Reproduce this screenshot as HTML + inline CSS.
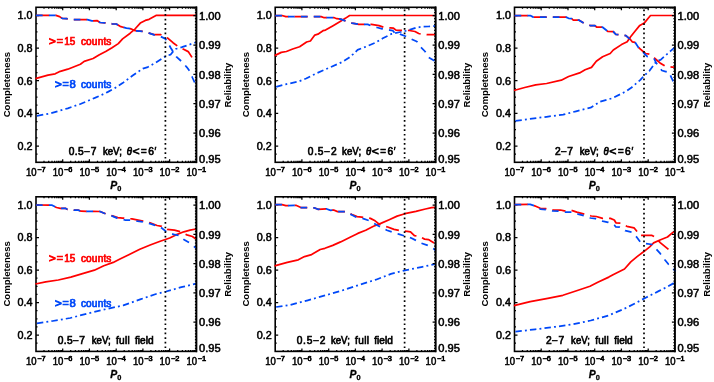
<!DOCTYPE html>
<html><head><meta charset="utf-8"><title>Completeness and reliability</title>
<style>html,body{margin:0;padding:0;background:#fff;}svg{display:block;will-change:transform;}text{font-family:"Liberation Sans",sans-serif;white-space:pre;}</style></head><body>
<svg width="714" height="382" viewBox="0 0 714 382">
<rect x="0" y="0" width="714" height="382" fill="#fff"/>
<g>
<path d="M44.0 162.3L44.0 160.8M44.0 7.3L44.0 8.8M48.7 162.3L48.7 160.8M48.7 7.3L48.7 8.8M52.0 162.3L52.0 160.8M52.0 7.3L52.0 8.8M54.6 162.3L54.6 160.8M54.6 7.3L54.6 8.8M56.8 162.3L56.8 160.8M56.8 7.3L56.8 8.8M58.5 162.3L58.5 160.8M58.5 7.3L58.5 8.8M60.1 162.3L60.1 160.8M60.1 7.3L60.1 8.8M61.5 162.3L61.5 160.8M61.5 7.3L61.5 8.8M62.7 162.3L62.7 159.3M62.7 7.3L62.7 10.3M70.7 162.3L70.7 160.8M70.7 7.3L70.7 8.8M75.4 162.3L75.4 160.8M75.4 7.3L75.4 8.8M78.8 162.3L78.8 160.8M78.8 7.3L78.8 8.8M81.4 162.3L81.4 160.8M81.4 7.3L81.4 8.8M83.5 162.3L83.5 160.8M83.5 7.3L83.5 8.8M85.3 162.3L85.3 160.8M85.3 7.3L85.3 8.8M86.8 162.3L86.8 160.8M86.8 7.3L86.8 8.8M88.2 162.3L88.2 160.8M88.2 7.3L88.2 8.8M89.4 162.3L89.4 159.3M89.4 7.3L89.4 10.3M97.5 162.3L97.5 160.8M97.5 7.3L97.5 8.8M102.2 162.3L102.2 160.8M102.2 7.3L102.2 8.8M105.5 162.3L105.5 160.8M105.5 7.3L105.5 8.8M108.1 162.3L108.1 160.8M108.1 7.3L108.1 8.8M110.2 162.3L110.2 160.8M110.2 7.3L110.2 8.8M112.0 162.3L112.0 160.8M112.0 7.3L112.0 8.8M113.6 162.3L113.6 160.8M113.6 7.3L113.6 8.8M114.9 162.3L114.9 160.8M114.9 7.3L114.9 8.8M116.2 162.3L116.2 159.3M116.2 7.3L116.2 10.3M124.2 162.3L124.2 160.8M124.2 7.3L124.2 8.8M128.9 162.3L128.9 160.8M128.9 7.3L128.9 8.8M132.2 162.3L132.2 160.8M132.2 7.3L132.2 8.8M134.8 162.3L134.8 160.8M134.8 7.3L134.8 8.8M137.0 162.3L137.0 160.8M137.0 7.3L137.0 8.8M138.7 162.3L138.7 160.8M138.7 7.3L138.7 8.8M140.3 162.3L140.3 160.8M140.3 7.3L140.3 8.8M141.7 162.3L141.7 160.8M141.7 7.3L141.7 8.8M142.9 162.3L142.9 159.3M142.9 7.3L142.9 10.3M150.9 162.3L150.9 160.8M150.9 7.3L150.9 8.8M155.6 162.3L155.6 160.8M155.6 7.3L155.6 8.8M159.0 162.3L159.0 160.8M159.0 7.3L159.0 8.8M161.6 162.3L161.6 160.8M161.6 7.3L161.6 8.8M163.7 162.3L163.7 160.8M163.7 7.3L163.7 8.8M165.5 162.3L165.5 160.8M165.5 7.3L165.5 8.8M167.0 162.3L167.0 160.8M167.0 7.3L167.0 8.8M168.4 162.3L168.4 160.8M168.4 7.3L168.4 8.8M169.6 162.3L169.6 159.3M169.6 7.3L169.6 10.3M177.7 162.3L177.7 160.8M177.7 7.3L177.7 8.8M182.4 162.3L182.4 160.8M182.4 7.3L182.4 8.8M185.7 162.3L185.7 160.8M185.7 7.3L185.7 8.8M188.3 162.3L188.3 160.8M188.3 7.3L188.3 8.8M190.4 162.3L190.4 160.8M190.4 7.3L190.4 8.8M192.2 162.3L192.2 160.8M192.2 7.3L192.2 8.8M193.8 162.3L193.8 160.8M193.8 7.3L193.8 8.8M195.1 162.3L195.1 160.8M195.1 7.3L195.1 8.8M36.0 154.1L37.5 154.1M36.0 146.0L39.0 146.0M36.0 137.8L37.5 137.8M36.0 129.7L37.5 129.7M36.0 121.5L37.5 121.5M36.0 113.4L39.0 113.4M36.0 105.2L37.5 105.2M36.0 97.1L37.5 97.1M36.0 88.9L37.5 88.9M36.0 80.7L39.0 80.7M36.0 72.6L37.5 72.6M36.0 64.4L37.5 64.4M36.0 56.3L37.5 56.3M36.0 48.1L39.0 48.1M36.0 40.0L37.5 40.0M36.0 31.8L37.5 31.8M36.0 23.7L37.5 23.7M36.0 15.5L39.0 15.5" stroke="#000" stroke-width="1.25" fill="none"/>
<rect x="36.0" y="7.3" width="160.4" height="155.0" fill="none" stroke="#000" stroke-width="1.6"/>
<polyline points="35.4,78.7 42.6,76.7 48.0,75.1 55.2,73.8 60.3,71.3 67.8,69.2 74.1,66.7 80.4,64.2 84.2,61.4 93.1,58.5 99.4,54.7 105.7,51.6 112.0,47.8 118.3,43.6 122.6,38.9 130.2,33.2 135.2,28.8 140.3,23.1 145.3,20.4 149.1,19.3 156.0,15.4 196.0,15.4" fill="none" stroke="#ff0000" stroke-width="1.72" stroke-linejoin="round"/>
<polyline points="36.9,115.9 50.2,113.4 67.8,108.3 80.4,104.0 95.5,97.6 101.0,95.2 107.5,92.1 113.8,88.8 122.6,83.1 132.7,75.5 142.8,68.6 147.8,67.1 155.4,62.9 163.0,57.9 166.1,56.0 170.5,54.7 173.0,51.6 175.6,49.0 181.9,47.2 189.4,44.6 195.5,42.5" fill="none" stroke="#0048f8" stroke-width="1.75" stroke-dasharray="6.45 3.15 1.9 3.15" stroke-dashoffset="0.0" stroke-linejoin="round"/>
<polyline points="36.0,15.4 55.9,15.4 59.6,16.6 62.2,18.4 66.6,18.7 73.5,19.6 87.4,19.6 91.8,20.9 97.0,20.6 100.0,22.5 105.7,22.8 112.0,23.8 116.3,24.0 120.1,26.3 126.4,28.2 130.8,28.8 135.2,30.7 142.8,31.3 149.1,33.2 154.1,34.7 160.4,34.5 163.0,35.7 168.0,38.3 173.0,42.7 178.1,46.5 183.1,49.0 188.2,51.6 192.0,57.4" fill="none" stroke="#ff0000" stroke-width="1.75" stroke-dasharray="13.3 6.0" stroke-dashoffset="0.0" stroke-linejoin="round"/>
<polyline points="36.0,15.4 55.9,15.4 59.6,16.6 62.2,18.4 66.6,18.7 73.5,19.6 87.4,19.6 91.8,20.9 97.0,20.6 100.0,22.5 105.7,22.8 112.0,23.8 116.3,24.0 120.1,26.3 126.4,28.2 130.8,28.8 135.2,30.7 142.8,31.3 149.1,33.2 154.1,34.9 160.4,36.4 165.5,38.9 167.4,42.0 170.5,47.5 173.0,51.6 176.8,57.2 181.9,61.7 186.9,67.3 190.1,71.7 192.6,78.0 195.3,84.0" fill="none" stroke="#0048f8" stroke-width="1.75" stroke-dasharray="6.65 6.22" stroke-dashoffset="0.0" stroke-linejoin="round"/>
<line x1="165.4" y1="9.5" x2="165.4" y2="161.8" stroke="#000" stroke-width="1.7" stroke-dasharray="1.7 2.907" stroke-dashoffset="0"/>
<path d="M196.4 159.4L194.9 159.4M196.4 156.4L194.9 156.4M196.4 153.5L194.9 153.5M196.4 150.6L194.9 150.6M196.4 147.6L194.9 147.6M196.4 144.7L194.9 144.7M196.4 141.8L194.9 141.8M196.4 138.8L194.9 138.8M196.4 135.9L194.9 135.9M196.4 133.0L193.4 133.0M196.4 130.0L194.9 130.0M196.4 127.1L194.9 127.1M196.4 124.2L194.9 124.2M196.4 121.2L194.9 121.2M196.4 118.3L194.9 118.3M196.4 115.4L194.9 115.4M196.4 112.4L194.9 112.4M196.4 109.5L194.9 109.5M196.4 106.6L194.9 106.6M196.4 103.7L193.4 103.7M196.4 100.7L194.9 100.7M196.4 97.8L194.9 97.8M196.4 94.9L194.9 94.9M196.4 91.9L194.9 91.9M196.4 89.0L194.9 89.0M196.4 86.1L194.9 86.1M196.4 83.1L194.9 83.1M196.4 80.2L194.9 80.2M196.4 77.3L194.9 77.3M196.4 74.3L193.4 74.3M196.4 71.4L194.9 71.4M196.4 68.5L194.9 68.5M196.4 65.5L194.9 65.5M196.4 62.6L194.9 62.6M196.4 59.7L194.9 59.7M196.4 56.7L194.9 56.7M196.4 53.8L194.9 53.8M196.4 50.9L194.9 50.9M196.4 47.9L194.9 47.9M196.4 45.0L193.4 45.0M196.4 42.1L194.9 42.1M196.4 39.1L194.9 39.1M196.4 36.2L194.9 36.2M196.4 33.3L194.9 33.3M196.4 30.3L194.9 30.3M196.4 27.4L194.9 27.4M196.4 24.5L194.9 24.5M196.4 21.5L194.9 21.5M196.4 18.6L194.9 18.6M196.4 15.7L193.4 15.7M196.4 12.7L194.9 12.7M196.4 9.8L194.9 9.8" stroke="#000" stroke-width="1.25" fill="none"/>
<line x1="196.4" y1="6.5" x2="196.4" y2="163.1" stroke="#000" stroke-width="1.6"/>
<text x="32.6" y="19.4" font-size="10.00" text-anchor="end" fill="#000" stroke="#000" stroke-width="0.50" textLength="15.0" lengthAdjust="spacingAndGlyphs" >1.0</text>
<text x="32.6" y="52.0" font-size="10.00" text-anchor="end" fill="#000" stroke="#000" stroke-width="0.50" textLength="15.0" lengthAdjust="spacingAndGlyphs" >0.8</text>
<text x="32.6" y="84.6" font-size="10.00" text-anchor="end" fill="#000" stroke="#000" stroke-width="0.50" textLength="15.0" lengthAdjust="spacingAndGlyphs" >0.6</text>
<text x="32.6" y="117.3" font-size="10.00" text-anchor="end" fill="#000" stroke="#000" stroke-width="0.50" textLength="15.0" lengthAdjust="spacingAndGlyphs" >0.4</text>
<text x="32.6" y="149.9" font-size="10.00" text-anchor="end" fill="#000" stroke="#000" stroke-width="0.50" textLength="15.0" lengthAdjust="spacingAndGlyphs" >0.2</text>
<text x="199.1" y="19.9" font-size="10.00" text-anchor="start" fill="#000" stroke="#000" stroke-width="0.50" textLength="21.6" lengthAdjust="spacingAndGlyphs" >1.00</text>
<text x="199.1" y="49.2" font-size="10.00" text-anchor="start" fill="#000" stroke="#000" stroke-width="0.50" textLength="21.6" lengthAdjust="spacingAndGlyphs" >0.99</text>
<text x="199.1" y="78.5" font-size="10.00" text-anchor="start" fill="#000" stroke="#000" stroke-width="0.50" textLength="21.6" lengthAdjust="spacingAndGlyphs" >0.98</text>
<text x="199.1" y="107.9" font-size="10.00" text-anchor="start" fill="#000" stroke="#000" stroke-width="0.50" textLength="21.6" lengthAdjust="spacingAndGlyphs" >0.97</text>
<text x="199.1" y="137.2" font-size="10.00" text-anchor="start" fill="#000" stroke="#000" stroke-width="0.50" textLength="21.6" lengthAdjust="spacingAndGlyphs" >0.96</text>
<text x="199.1" y="162.9" font-size="10.00" text-anchor="start" fill="#000" stroke="#000" stroke-width="0.50" textLength="21.6" lengthAdjust="spacingAndGlyphs" >0.95</text>
<text x="26.0" y="175.9" font-size="10.00" text-anchor="start" fill="#000" stroke="#000" stroke-width="0.50" textLength="10.6" lengthAdjust="spacingAndGlyphs" >10</text>
<text x="37.2" y="172.0" font-size="7.00" text-anchor="start" fill="#000" stroke="#000" stroke-width="0.65" textLength="8.4" lengthAdjust="spacingAndGlyphs" >−7</text>
<text x="52.7" y="175.9" font-size="10.00" text-anchor="start" fill="#000" stroke="#000" stroke-width="0.50" textLength="10.6" lengthAdjust="spacingAndGlyphs" >10</text>
<text x="64.0" y="172.0" font-size="7.00" text-anchor="start" fill="#000" stroke="#000" stroke-width="0.65" textLength="8.4" lengthAdjust="spacingAndGlyphs" >−6</text>
<text x="79.4" y="175.9" font-size="10.00" text-anchor="start" fill="#000" stroke="#000" stroke-width="0.50" textLength="10.6" lengthAdjust="spacingAndGlyphs" >10</text>
<text x="90.7" y="172.0" font-size="7.00" text-anchor="start" fill="#000" stroke="#000" stroke-width="0.65" textLength="8.4" lengthAdjust="spacingAndGlyphs" >−5</text>
<text x="106.2" y="175.9" font-size="10.00" text-anchor="start" fill="#000" stroke="#000" stroke-width="0.50" textLength="10.6" lengthAdjust="spacingAndGlyphs" >10</text>
<text x="117.5" y="172.0" font-size="7.00" text-anchor="start" fill="#000" stroke="#000" stroke-width="0.65" textLength="8.4" lengthAdjust="spacingAndGlyphs" >−4</text>
<text x="132.9" y="175.9" font-size="10.00" text-anchor="start" fill="#000" stroke="#000" stroke-width="0.50" textLength="10.6" lengthAdjust="spacingAndGlyphs" >10</text>
<text x="144.2" y="172.0" font-size="7.00" text-anchor="start" fill="#000" stroke="#000" stroke-width="0.65" textLength="8.4" lengthAdjust="spacingAndGlyphs" >−3</text>
<text x="159.6" y="175.9" font-size="10.00" text-anchor="start" fill="#000" stroke="#000" stroke-width="0.50" textLength="10.6" lengthAdjust="spacingAndGlyphs" >10</text>
<text x="170.9" y="172.0" font-size="7.00" text-anchor="start" fill="#000" stroke="#000" stroke-width="0.65" textLength="8.4" lengthAdjust="spacingAndGlyphs" >−2</text>
<text x="186.4" y="175.9" font-size="10.00" text-anchor="start" fill="#000" stroke="#000" stroke-width="0.50" textLength="10.6" lengthAdjust="spacingAndGlyphs" >10</text>
<text x="197.7" y="172.0" font-size="7.00" text-anchor="start" fill="#000" stroke="#000" stroke-width="0.65" textLength="8.4" lengthAdjust="spacingAndGlyphs" >−1</text>
<text transform="translate(9.6 84.6) rotate(-90)" font-size="9.80" font-weight="bold" text-anchor="middle" textLength="65.4" lengthAdjust="spacingAndGlyphs" fill="#000">Completeness</text>
<text transform="translate(231.1 85.1) rotate(-90)" font-size="9.80" font-weight="bold" text-anchor="middle" textLength="44.6" lengthAdjust="spacingAndGlyphs" fill="#000">Reliability</text>
<text x="110.2" y="188.6" font-size="10.4" font-style="italic" font-weight="bold" fill="#000" stroke="#000" stroke-width="0.3">P</text>
<text x="117.2" y="190.9" font-size="7.4" font-weight="bold" fill="#000" stroke="#000" stroke-width="0.3">0</text>
<text x="68.7" y="155.0" font-size="10.20" text-anchor="start" fill="#000" stroke="#000" stroke-width="0.65" textLength="27.6" lengthAdjust="spacing" >0.5−7</text>
<text x="102.9" y="155.0" font-size="10.10" text-anchor="start" fill="#000" stroke="#000" stroke-width="0.65" textLength="19.0" lengthAdjust="spacingAndGlyphs" >keV;</text>
<text x="126.7" y="155.0" font-size="10.20" text-anchor="start" fill="#000" stroke="#000" stroke-width="0.65" textLength="5.2" lengthAdjust="spacingAndGlyphs"  font-style="italic">θ</text>
<text x="132.5" y="155.0" font-size="10.20" text-anchor="start" fill="#000" stroke="#000" stroke-width="0.65" textLength="7.1" lengthAdjust="spacingAndGlyphs" >&lt;</text>
<text x="141.1" y="155.0" font-size="10.20" text-anchor="start" fill="#000" stroke="#000" stroke-width="0.65" textLength="5.7" lengthAdjust="spacingAndGlyphs" >=</text>
<text x="148.2" y="155.0" font-size="10.20" text-anchor="start" fill="#000" stroke="#000" stroke-width="0.65" textLength="5.7" lengthAdjust="spacingAndGlyphs" >6</text>
<text x="154.6" y="155.0" font-size="10.20" text-anchor="start" fill="#000" stroke="#000" stroke-width="0.65" textLength="1.8" lengthAdjust="spacingAndGlyphs" >′</text>
<text x="48.9" y="44.9" font-size="10.20" text-anchor="start" fill="#ff0000" stroke="#ff0000" stroke-width="0.90" textLength="6.8" lengthAdjust="spacingAndGlyphs" >&gt;</text>
<text x="56.8" y="44.9" font-size="10.20" text-anchor="start" fill="#ff0000" stroke="#ff0000" stroke-width="0.90" textLength="6.2" lengthAdjust="spacingAndGlyphs" >=</text>
<text x="64.2" y="44.9" font-size="10.20" text-anchor="start" fill="#ff0000" stroke="#ff0000" stroke-width="0.70" textLength="11.0" lengthAdjust="spacingAndGlyphs" >15</text>
<text x="80.9" y="44.9" font-size="10.10" text-anchor="start" fill="#ff0000" stroke="#ff0000" stroke-width="0.70" textLength="30.5" lengthAdjust="spacing" >counts</text>
<text x="54.9" y="88.0" font-size="10.20" text-anchor="start" fill="#0048f8" stroke="#0048f8" stroke-width="0.90" textLength="6.8" lengthAdjust="spacingAndGlyphs" >&gt;</text>
<text x="62.4" y="88.0" font-size="10.20" text-anchor="start" fill="#0048f8" stroke="#0048f8" stroke-width="0.90" textLength="6.2" lengthAdjust="spacingAndGlyphs" >=</text>
<text x="69.4" y="88.0" font-size="10.20" text-anchor="start" fill="#0048f8" stroke="#0048f8" stroke-width="0.70" textLength="6.3" lengthAdjust="spacingAndGlyphs" >8</text>
<text x="80.9" y="88.0" font-size="10.10" text-anchor="start" fill="#0048f8" stroke="#0048f8" stroke-width="0.70" textLength="30.5" lengthAdjust="spacing" >counts</text>
</g>
<g>
<path d="M283.2 162.3L283.2 160.8M283.2 7.3L283.2 8.8M288.0 162.3L288.0 160.8M288.0 7.3L288.0 8.8M291.3 162.3L291.3 160.8M291.3 7.3L291.3 8.8M293.9 162.3L293.9 160.8M293.9 7.3L293.9 8.8M296.0 162.3L296.0 160.8M296.0 7.3L296.0 8.8M297.8 162.3L297.8 160.8M297.8 7.3L297.8 8.8M299.3 162.3L299.3 160.8M299.3 7.3L299.3 8.8M300.7 162.3L300.7 160.8M300.7 7.3L300.7 8.8M301.9 162.3L301.9 159.3M301.9 7.3L301.9 10.3M310.0 162.3L310.0 160.8M310.0 7.3L310.0 8.8M314.7 162.3L314.7 160.8M314.7 7.3L314.7 8.8M318.0 162.3L318.0 160.8M318.0 7.3L318.0 8.8M320.6 162.3L320.6 160.8M320.6 7.3L320.6 8.8M322.7 162.3L322.7 160.8M322.7 7.3L322.7 8.8M324.5 162.3L324.5 160.8M324.5 7.3L324.5 8.8M326.1 162.3L326.1 160.8M326.1 7.3L326.1 8.8M327.4 162.3L327.4 160.8M327.4 7.3L327.4 8.8M328.7 162.3L328.7 159.3M328.7 7.3L328.7 10.3M336.7 162.3L336.7 160.8M336.7 7.3L336.7 8.8M341.4 162.3L341.4 160.8M341.4 7.3L341.4 8.8M344.8 162.3L344.8 160.8M344.8 7.3L344.8 8.8M347.4 162.3L347.4 160.8M347.4 7.3L347.4 8.8M349.5 162.3L349.5 160.8M349.5 7.3L349.5 8.8M351.3 162.3L351.3 160.8M351.3 7.3L351.3 8.8M352.8 162.3L352.8 160.8M352.8 7.3L352.8 8.8M354.2 162.3L354.2 160.8M354.2 7.3L354.2 8.8M355.4 162.3L355.4 159.3M355.4 7.3L355.4 10.3M363.4 162.3L363.4 160.8M363.4 7.3L363.4 8.8M368.2 162.3L368.2 160.8M368.2 7.3L368.2 8.8M371.5 162.3L371.5 160.8M371.5 7.3L371.5 8.8M374.1 162.3L374.1 160.8M374.1 7.3L374.1 8.8M376.2 162.3L376.2 160.8M376.2 7.3L376.2 8.8M378.0 162.3L378.0 160.8M378.0 7.3L378.0 8.8M379.5 162.3L379.5 160.8M379.5 7.3L379.5 8.8M380.9 162.3L380.9 160.8M380.9 7.3L380.9 8.8M382.1 162.3L382.1 159.3M382.1 7.3L382.1 10.3M390.2 162.3L390.2 160.8M390.2 7.3L390.2 8.8M394.9 162.3L394.9 160.8M394.9 7.3L394.9 8.8M398.2 162.3L398.2 160.8M398.2 7.3L398.2 8.8M400.8 162.3L400.8 160.8M400.8 7.3L400.8 8.8M402.9 162.3L402.9 160.8M402.9 7.3L402.9 8.8M404.7 162.3L404.7 160.8M404.7 7.3L404.7 8.8M406.3 162.3L406.3 160.8M406.3 7.3L406.3 8.8M407.6 162.3L407.6 160.8M407.6 7.3L407.6 8.8M408.9 162.3L408.9 159.3M408.9 7.3L408.9 10.3M416.9 162.3L416.9 160.8M416.9 7.3L416.9 8.8M421.6 162.3L421.6 160.8M421.6 7.3L421.6 8.8M425.0 162.3L425.0 160.8M425.0 7.3L425.0 8.8M427.6 162.3L427.6 160.8M427.6 7.3L427.6 8.8M429.7 162.3L429.7 160.8M429.7 7.3L429.7 8.8M431.5 162.3L431.5 160.8M431.5 7.3L431.5 8.8M433.0 162.3L433.0 160.8M433.0 7.3L433.0 8.8M434.4 162.3L434.4 160.8M434.4 7.3L434.4 8.8M275.2 154.1L276.7 154.1M275.2 146.0L278.2 146.0M275.2 137.8L276.7 137.8M275.2 129.7L276.7 129.7M275.2 121.5L276.7 121.5M275.2 113.4L278.2 113.4M275.2 105.2L276.7 105.2M275.2 97.1L276.7 97.1M275.2 88.9L276.7 88.9M275.2 80.7L278.2 80.7M275.2 72.6L276.7 72.6M275.2 64.4L276.7 64.4M275.2 56.3L276.7 56.3M275.2 48.1L278.2 48.1M275.2 40.0L276.7 40.0M275.2 31.8L276.7 31.8M275.2 23.7L276.7 23.7M275.2 15.5L278.2 15.5" stroke="#000" stroke-width="1.25" fill="none"/>
<rect x="275.2" y="7.3" width="160.4" height="155.0" fill="none" stroke="#000" stroke-width="1.6"/>
<polyline points="274.6,55.6 281.3,52.4 286.4,51.5 292.7,49.0 299.6,46.8 306.6,42.0 310.4,41.0 314.8,35.1 317.9,34.2 323.0,30.7 325.5,30.1 333.1,25.7 340.6,21.2 345.7,18.1 349.6,15.5 435.5,15.5" fill="none" stroke="#ff0000" stroke-width="1.72" stroke-linejoin="round"/>
<polyline points="276.1,86.9 285.7,84.3 298.3,81.6 306.1,78.5 317.1,73.0 329.7,67.5 342.2,62.0 348.5,58.1 353.2,54.1 357.6,49.9 366.4,46.5 375.2,42.7 382.8,38.3 391.6,33.9 400.4,32.0 408.0,30.4 415.6,27.9 420.6,26.9 428.2,26.5 435.5,26.0" fill="none" stroke="#0048f8" stroke-width="1.75" stroke-dasharray="6.45 3.15 1.9 3.15" stroke-dashoffset="0.0" stroke-linejoin="round"/>
<polyline points="275.3,15.5 282.0,15.5 285.8,16.6 321.1,16.6 323.6,17.5 333.7,17.5 336.8,18.7 340.6,19.1 345.7,21.0 352.0,23.1 356.3,23.8 358.8,24.4 367.7,24.4 371.4,24.3 379.0,25.7 383.4,27.2 390.4,27.9 393.5,28.2 396.0,30.1 401.7,30.4 409.3,30.5 415.0,31.5 418.7,33.5 420.4,33.9 427.4,34.7 435.5,34.7" fill="none" stroke="#ff0000" stroke-width="1.75" stroke-dasharray="13.3 6.0" stroke-dashoffset="0.0" stroke-linejoin="round"/>
<polyline points="275.3,15.5 282.0,15.5 285.8,16.6 321.1,16.6 323.6,17.5 333.7,17.5 336.8,18.7 340.6,19.1 345.7,21.0 352.0,23.1 356.3,23.8 358.8,24.4 367.7,24.4 370.8,25.7 377.1,27.5 382.2,28.8 389.7,30.1 392.9,30.7 394.8,33.2 398.5,32.6 400.6,34.4 405.6,36.2 411.5,39.2 416.8,41.5 420.4,46.8 425.1,51.5 428.6,57.4 433.9,60.4 435.5,61.3" fill="none" stroke="#0048f8" stroke-width="1.75" stroke-dasharray="6.65 6.22" stroke-dashoffset="0.0" stroke-linejoin="round"/>
<line x1="404.6" y1="9.5" x2="404.6" y2="161.8" stroke="#000" stroke-width="1.7" stroke-dasharray="1.7 2.907" stroke-dashoffset="0"/>
<path d="M435.6 159.4L434.1 159.4M435.6 156.4L434.1 156.4M435.6 153.5L434.1 153.5M435.6 150.6L434.1 150.6M435.6 147.6L434.1 147.6M435.6 144.7L434.1 144.7M435.6 141.8L434.1 141.8M435.6 138.8L434.1 138.8M435.6 135.9L434.1 135.9M435.6 133.0L432.6 133.0M435.6 130.0L434.1 130.0M435.6 127.1L434.1 127.1M435.6 124.2L434.1 124.2M435.6 121.2L434.1 121.2M435.6 118.3L434.1 118.3M435.6 115.4L434.1 115.4M435.6 112.4L434.1 112.4M435.6 109.5L434.1 109.5M435.6 106.6L434.1 106.6M435.6 103.7L432.6 103.7M435.6 100.7L434.1 100.7M435.6 97.8L434.1 97.8M435.6 94.9L434.1 94.9M435.6 91.9L434.1 91.9M435.6 89.0L434.1 89.0M435.6 86.1L434.1 86.1M435.6 83.1L434.1 83.1M435.6 80.2L434.1 80.2M435.6 77.3L434.1 77.3M435.6 74.3L432.6 74.3M435.6 71.4L434.1 71.4M435.6 68.5L434.1 68.5M435.6 65.5L434.1 65.5M435.6 62.6L434.1 62.6M435.6 59.7L434.1 59.7M435.6 56.7L434.1 56.7M435.6 53.8L434.1 53.8M435.6 50.9L434.1 50.9M435.6 47.9L434.1 47.9M435.6 45.0L432.6 45.0M435.6 42.1L434.1 42.1M435.6 39.1L434.1 39.1M435.6 36.2L434.1 36.2M435.6 33.3L434.1 33.3M435.6 30.3L434.1 30.3M435.6 27.4L434.1 27.4M435.6 24.5L434.1 24.5M435.6 21.5L434.1 21.5M435.6 18.6L434.1 18.6M435.6 15.7L432.6 15.7M435.6 12.7L434.1 12.7M435.6 9.8L434.1 9.8" stroke="#000" stroke-width="1.25" fill="none"/>
<line x1="435.6" y1="6.5" x2="435.6" y2="163.1" stroke="#000" stroke-width="1.6"/>
<text x="271.8" y="19.4" font-size="10.00" text-anchor="end" fill="#000" stroke="#000" stroke-width="0.50" textLength="15.0" lengthAdjust="spacingAndGlyphs" >1.0</text>
<text x="271.8" y="52.0" font-size="10.00" text-anchor="end" fill="#000" stroke="#000" stroke-width="0.50" textLength="15.0" lengthAdjust="spacingAndGlyphs" >0.8</text>
<text x="271.8" y="84.6" font-size="10.00" text-anchor="end" fill="#000" stroke="#000" stroke-width="0.50" textLength="15.0" lengthAdjust="spacingAndGlyphs" >0.6</text>
<text x="271.8" y="117.3" font-size="10.00" text-anchor="end" fill="#000" stroke="#000" stroke-width="0.50" textLength="15.0" lengthAdjust="spacingAndGlyphs" >0.4</text>
<text x="271.8" y="149.9" font-size="10.00" text-anchor="end" fill="#000" stroke="#000" stroke-width="0.50" textLength="15.0" lengthAdjust="spacingAndGlyphs" >0.2</text>
<text x="438.3" y="19.9" font-size="10.00" text-anchor="start" fill="#000" stroke="#000" stroke-width="0.50" textLength="21.6" lengthAdjust="spacingAndGlyphs" >1.00</text>
<text x="438.3" y="49.2" font-size="10.00" text-anchor="start" fill="#000" stroke="#000" stroke-width="0.50" textLength="21.6" lengthAdjust="spacingAndGlyphs" >0.99</text>
<text x="438.3" y="78.5" font-size="10.00" text-anchor="start" fill="#000" stroke="#000" stroke-width="0.50" textLength="21.6" lengthAdjust="spacingAndGlyphs" >0.98</text>
<text x="438.3" y="107.9" font-size="10.00" text-anchor="start" fill="#000" stroke="#000" stroke-width="0.50" textLength="21.6" lengthAdjust="spacingAndGlyphs" >0.97</text>
<text x="438.3" y="137.2" font-size="10.00" text-anchor="start" fill="#000" stroke="#000" stroke-width="0.50" textLength="21.6" lengthAdjust="spacingAndGlyphs" >0.96</text>
<text x="438.3" y="162.9" font-size="10.00" text-anchor="start" fill="#000" stroke="#000" stroke-width="0.50" textLength="21.6" lengthAdjust="spacingAndGlyphs" >0.95</text>
<text x="265.2" y="175.9" font-size="10.00" text-anchor="start" fill="#000" stroke="#000" stroke-width="0.50" textLength="10.6" lengthAdjust="spacingAndGlyphs" >10</text>
<text x="276.5" y="172.0" font-size="7.00" text-anchor="start" fill="#000" stroke="#000" stroke-width="0.65" textLength="8.4" lengthAdjust="spacingAndGlyphs" >−7</text>
<text x="291.9" y="175.9" font-size="10.00" text-anchor="start" fill="#000" stroke="#000" stroke-width="0.50" textLength="10.6" lengthAdjust="spacingAndGlyphs" >10</text>
<text x="303.2" y="172.0" font-size="7.00" text-anchor="start" fill="#000" stroke="#000" stroke-width="0.65" textLength="8.4" lengthAdjust="spacingAndGlyphs" >−6</text>
<text x="318.7" y="175.9" font-size="10.00" text-anchor="start" fill="#000" stroke="#000" stroke-width="0.50" textLength="10.6" lengthAdjust="spacingAndGlyphs" >10</text>
<text x="330.0" y="172.0" font-size="7.00" text-anchor="start" fill="#000" stroke="#000" stroke-width="0.65" textLength="8.4" lengthAdjust="spacingAndGlyphs" >−5</text>
<text x="345.4" y="175.9" font-size="10.00" text-anchor="start" fill="#000" stroke="#000" stroke-width="0.50" textLength="10.6" lengthAdjust="spacingAndGlyphs" >10</text>
<text x="356.7" y="172.0" font-size="7.00" text-anchor="start" fill="#000" stroke="#000" stroke-width="0.65" textLength="8.4" lengthAdjust="spacingAndGlyphs" >−4</text>
<text x="372.1" y="175.9" font-size="10.00" text-anchor="start" fill="#000" stroke="#000" stroke-width="0.50" textLength="10.6" lengthAdjust="spacingAndGlyphs" >10</text>
<text x="383.4" y="172.0" font-size="7.00" text-anchor="start" fill="#000" stroke="#000" stroke-width="0.65" textLength="8.4" lengthAdjust="spacingAndGlyphs" >−3</text>
<text x="398.9" y="175.9" font-size="10.00" text-anchor="start" fill="#000" stroke="#000" stroke-width="0.50" textLength="10.6" lengthAdjust="spacingAndGlyphs" >10</text>
<text x="410.2" y="172.0" font-size="7.00" text-anchor="start" fill="#000" stroke="#000" stroke-width="0.65" textLength="8.4" lengthAdjust="spacingAndGlyphs" >−2</text>
<text x="425.6" y="175.9" font-size="10.00" text-anchor="start" fill="#000" stroke="#000" stroke-width="0.50" textLength="10.6" lengthAdjust="spacingAndGlyphs" >10</text>
<text x="436.9" y="172.0" font-size="7.00" text-anchor="start" fill="#000" stroke="#000" stroke-width="0.65" textLength="8.4" lengthAdjust="spacingAndGlyphs" >−1</text>
<text transform="translate(248.8 84.6) rotate(-90)" font-size="9.80" font-weight="bold" text-anchor="middle" textLength="65.4" lengthAdjust="spacingAndGlyphs" fill="#000">Completeness</text>
<text transform="translate(470.3 85.1) rotate(-90)" font-size="9.80" font-weight="bold" text-anchor="middle" textLength="44.6" lengthAdjust="spacingAndGlyphs" fill="#000">Reliability</text>
<text x="349.5" y="188.6" font-size="10.4" font-style="italic" font-weight="bold" fill="#000" stroke="#000" stroke-width="0.3">P</text>
<text x="356.4" y="190.9" font-size="7.4" font-weight="bold" fill="#000" stroke="#000" stroke-width="0.3">0</text>
<text x="307.7" y="155.0" font-size="10.20" text-anchor="start" fill="#000" stroke="#000" stroke-width="0.65" textLength="28.9" lengthAdjust="spacing" >0.5−2</text>
<text x="342.1" y="155.0" font-size="10.10" text-anchor="start" fill="#000" stroke="#000" stroke-width="0.65" textLength="19.0" lengthAdjust="spacingAndGlyphs" >keV;</text>
<text x="365.9" y="155.0" font-size="10.20" text-anchor="start" fill="#000" stroke="#000" stroke-width="0.65" textLength="5.2" lengthAdjust="spacingAndGlyphs"  font-style="italic">θ</text>
<text x="371.7" y="155.0" font-size="10.20" text-anchor="start" fill="#000" stroke="#000" stroke-width="0.65" textLength="7.1" lengthAdjust="spacingAndGlyphs" >&lt;</text>
<text x="380.3" y="155.0" font-size="10.20" text-anchor="start" fill="#000" stroke="#000" stroke-width="0.65" textLength="5.7" lengthAdjust="spacingAndGlyphs" >=</text>
<text x="387.4" y="155.0" font-size="10.20" text-anchor="start" fill="#000" stroke="#000" stroke-width="0.65" textLength="5.7" lengthAdjust="spacingAndGlyphs" >6</text>
<text x="393.8" y="155.0" font-size="10.20" text-anchor="start" fill="#000" stroke="#000" stroke-width="0.65" textLength="1.8" lengthAdjust="spacingAndGlyphs" >′</text>
</g>
<g>
<path d="M522.5 162.3L522.5 160.8M522.5 7.3L522.5 8.8M527.3 162.3L527.3 160.8M527.3 7.3L527.3 8.8M530.6 162.3L530.6 160.8M530.6 7.3L530.6 8.8M533.2 162.3L533.2 160.8M533.2 7.3L533.2 8.8M535.3 162.3L535.3 160.8M535.3 7.3L535.3 8.8M537.1 162.3L537.1 160.8M537.1 7.3L537.1 8.8M538.6 162.3L538.6 160.8M538.6 7.3L538.6 8.8M540.0 162.3L540.0 160.8M540.0 7.3L540.0 8.8M541.2 162.3L541.2 159.3M541.2 7.3L541.2 10.3M549.3 162.3L549.3 160.8M549.3 7.3L549.3 8.8M554.0 162.3L554.0 160.8M554.0 7.3L554.0 8.8M557.3 162.3L557.3 160.8M557.3 7.3L557.3 8.8M559.9 162.3L559.9 160.8M559.9 7.3L559.9 8.8M562.0 162.3L562.0 160.8M562.0 7.3L562.0 8.8M563.8 162.3L563.8 160.8M563.8 7.3L563.8 8.8M565.4 162.3L565.4 160.8M565.4 7.3L565.4 8.8M566.7 162.3L566.7 160.8M566.7 7.3L566.7 8.8M568.0 162.3L568.0 159.3M568.0 7.3L568.0 10.3M576.0 162.3L576.0 160.8M576.0 7.3L576.0 8.8M580.7 162.3L580.7 160.8M580.7 7.3L580.7 8.8M584.1 162.3L584.1 160.8M584.1 7.3L584.1 8.8M586.7 162.3L586.7 160.8M586.7 7.3L586.7 8.8M588.8 162.3L588.8 160.8M588.8 7.3L588.8 8.8M590.6 162.3L590.6 160.8M590.6 7.3L590.6 8.8M592.1 162.3L592.1 160.8M592.1 7.3L592.1 8.8M593.5 162.3L593.5 160.8M593.5 7.3L593.5 8.8M594.7 162.3L594.7 159.3M594.7 7.3L594.7 10.3M602.7 162.3L602.7 160.8M602.7 7.3L602.7 8.8M607.5 162.3L607.5 160.8M607.5 7.3L607.5 8.8M610.8 162.3L610.8 160.8M610.8 7.3L610.8 8.8M613.4 162.3L613.4 160.8M613.4 7.3L613.4 8.8M615.5 162.3L615.5 160.8M615.5 7.3L615.5 8.8M617.3 162.3L617.3 160.8M617.3 7.3L617.3 8.8M618.8 162.3L618.8 160.8M618.8 7.3L618.8 8.8M620.2 162.3L620.2 160.8M620.2 7.3L620.2 8.8M621.4 162.3L621.4 159.3M621.4 7.3L621.4 10.3M629.5 162.3L629.5 160.8M629.5 7.3L629.5 8.8M634.2 162.3L634.2 160.8M634.2 7.3L634.2 8.8M637.5 162.3L637.5 160.8M637.5 7.3L637.5 8.8M640.1 162.3L640.1 160.8M640.1 7.3L640.1 8.8M642.2 162.3L642.2 160.8M642.2 7.3L642.2 8.8M644.0 162.3L644.0 160.8M644.0 7.3L644.0 8.8M645.6 162.3L645.6 160.8M645.6 7.3L645.6 8.8M646.9 162.3L646.9 160.8M646.9 7.3L646.9 8.8M648.2 162.3L648.2 159.3M648.2 7.3L648.2 10.3M656.2 162.3L656.2 160.8M656.2 7.3L656.2 8.8M660.9 162.3L660.9 160.8M660.9 7.3L660.9 8.8M664.3 162.3L664.3 160.8M664.3 7.3L664.3 8.8M666.9 162.3L666.9 160.8M666.9 7.3L666.9 8.8M669.0 162.3L669.0 160.8M669.0 7.3L669.0 8.8M670.8 162.3L670.8 160.8M670.8 7.3L670.8 8.8M672.3 162.3L672.3 160.8M672.3 7.3L672.3 8.8M673.7 162.3L673.7 160.8M673.7 7.3L673.7 8.8M514.5 154.1L516.0 154.1M514.5 146.0L517.5 146.0M514.5 137.8L516.0 137.8M514.5 129.7L516.0 129.7M514.5 121.5L516.0 121.5M514.5 113.4L517.5 113.4M514.5 105.2L516.0 105.2M514.5 97.1L516.0 97.1M514.5 88.9L516.0 88.9M514.5 80.7L517.5 80.7M514.5 72.6L516.0 72.6M514.5 64.4L516.0 64.4M514.5 56.3L516.0 56.3M514.5 48.1L517.5 48.1M514.5 40.0L516.0 40.0M514.5 31.8L516.0 31.8M514.5 23.7L516.0 23.7M514.5 15.5L517.5 15.5" stroke="#000" stroke-width="1.25" fill="none"/>
<rect x="514.5" y="7.3" width="160.4" height="155.0" fill="none" stroke="#000" stroke-width="1.6"/>
<polyline points="513.9,90.5 524.7,87.5 535.7,84.9 546.6,83.5 561.3,80.2 568.6,76.5 579.6,72.9 585.1,69.7 591.5,67.4 596.3,61.2 602.6,56.7 610.2,53.5 613.3,50.0 621.5,44.6 627.2,41.8 630.4,37.0 635.4,30.7 639.8,25.4 644.2,23.1 650.5,15.5 675.0,15.5" fill="none" stroke="#ff0000" stroke-width="1.72" stroke-linejoin="round"/>
<polyline points="515.4,120.9 528.3,119.2 546.6,116.8 563.1,114.6 576.0,111.3 590.6,107.7 599.8,101.8 612.6,98.1 623.6,92.6 626.6,91.0 631.6,87.5 640.4,79.9 644.2,75.5 649.3,71.1 654.3,64.2 656.8,61.0 660.6,59.8 665.7,55.3 670.7,50.9 675.0,47.2" fill="none" stroke="#0048f8" stroke-width="1.75" stroke-dasharray="6.45 3.15 1.9 3.15" stroke-dashoffset="0.0" stroke-linejoin="round"/>
<polyline points="514.6,15.5 530.2,15.5 533.3,17.1 566.1,17.1 568.6,18.3 571.8,18.7 573.1,20.0 578.7,20.0 584.4,23.4 590.7,25.7 595.0,25.7 596.9,27.2 602.6,27.2 607.7,31.3 613.3,31.6 615.9,34.5 619.6,34.7 625.9,35.7 630.4,39.5 632.2,41.8 635.4,42.3 639.5,48.4 645.5,53.5 649.9,54.3 654.9,58.5 660.0,62.9 665.0,66.1 672.0,67.1 675.1,67.1" fill="none" stroke="#ff0000" stroke-width="1.75" stroke-dasharray="13.3 6.0" stroke-dashoffset="0.0" stroke-linejoin="round"/>
<polyline points="514.6,15.5 530.2,15.5 533.3,17.1 566.1,17.1 568.6,18.3 571.8,18.7 573.1,20.0 578.7,20.0 584.4,23.4 590.7,25.7 595.0,25.7 596.9,27.2 602.6,27.2 607.7,31.3 613.3,31.6 615.9,34.5 619.6,34.7 625.9,35.7 630.4,39.5 632.2,41.8 635.4,42.8 638.6,47.8 644.2,53.5 647.4,56.6 654.3,59.1 656.2,62.9 658.7,66.7 661.9,70.5 665.7,71.7 668.8,71.5 671.3,77.4 674.4,84.0" fill="none" stroke="#0048f8" stroke-width="1.75" stroke-dasharray="6.65 6.22" stroke-dashoffset="0.0" stroke-linejoin="round"/>
<line x1="644.0" y1="9.5" x2="644.0" y2="161.8" stroke="#000" stroke-width="1.7" stroke-dasharray="1.7 2.907" stroke-dashoffset="0"/>
<path d="M674.9 159.4L673.4 159.4M674.9 156.4L673.4 156.4M674.9 153.5L673.4 153.5M674.9 150.6L673.4 150.6M674.9 147.6L673.4 147.6M674.9 144.7L673.4 144.7M674.9 141.8L673.4 141.8M674.9 138.8L673.4 138.8M674.9 135.9L673.4 135.9M674.9 133.0L671.9 133.0M674.9 130.0L673.4 130.0M674.9 127.1L673.4 127.1M674.9 124.2L673.4 124.2M674.9 121.2L673.4 121.2M674.9 118.3L673.4 118.3M674.9 115.4L673.4 115.4M674.9 112.4L673.4 112.4M674.9 109.5L673.4 109.5M674.9 106.6L673.4 106.6M674.9 103.7L671.9 103.7M674.9 100.7L673.4 100.7M674.9 97.8L673.4 97.8M674.9 94.9L673.4 94.9M674.9 91.9L673.4 91.9M674.9 89.0L673.4 89.0M674.9 86.1L673.4 86.1M674.9 83.1L673.4 83.1M674.9 80.2L673.4 80.2M674.9 77.3L673.4 77.3M674.9 74.3L671.9 74.3M674.9 71.4L673.4 71.4M674.9 68.5L673.4 68.5M674.9 65.5L673.4 65.5M674.9 62.6L673.4 62.6M674.9 59.7L673.4 59.7M674.9 56.7L673.4 56.7M674.9 53.8L673.4 53.8M674.9 50.9L673.4 50.9M674.9 47.9L673.4 47.9M674.9 45.0L671.9 45.0M674.9 42.1L673.4 42.1M674.9 39.1L673.4 39.1M674.9 36.2L673.4 36.2M674.9 33.3L673.4 33.3M674.9 30.3L673.4 30.3M674.9 27.4L673.4 27.4M674.9 24.5L673.4 24.5M674.9 21.5L673.4 21.5M674.9 18.6L673.4 18.6M674.9 15.7L671.9 15.7M674.9 12.7L673.4 12.7M674.9 9.8L673.4 9.8" stroke="#000" stroke-width="1.25" fill="none"/>
<line x1="674.9" y1="6.5" x2="674.9" y2="163.1" stroke="#000" stroke-width="1.6"/>
<text x="511.1" y="19.4" font-size="10.00" text-anchor="end" fill="#000" stroke="#000" stroke-width="0.50" textLength="15.0" lengthAdjust="spacingAndGlyphs" >1.0</text>
<text x="511.1" y="52.0" font-size="10.00" text-anchor="end" fill="#000" stroke="#000" stroke-width="0.50" textLength="15.0" lengthAdjust="spacingAndGlyphs" >0.8</text>
<text x="511.1" y="84.6" font-size="10.00" text-anchor="end" fill="#000" stroke="#000" stroke-width="0.50" textLength="15.0" lengthAdjust="spacingAndGlyphs" >0.6</text>
<text x="511.1" y="117.3" font-size="10.00" text-anchor="end" fill="#000" stroke="#000" stroke-width="0.50" textLength="15.0" lengthAdjust="spacingAndGlyphs" >0.4</text>
<text x="511.1" y="149.9" font-size="10.00" text-anchor="end" fill="#000" stroke="#000" stroke-width="0.50" textLength="15.0" lengthAdjust="spacingAndGlyphs" >0.2</text>
<text x="677.6" y="19.9" font-size="10.00" text-anchor="start" fill="#000" stroke="#000" stroke-width="0.50" textLength="21.6" lengthAdjust="spacingAndGlyphs" >1.00</text>
<text x="677.6" y="49.2" font-size="10.00" text-anchor="start" fill="#000" stroke="#000" stroke-width="0.50" textLength="21.6" lengthAdjust="spacingAndGlyphs" >0.99</text>
<text x="677.6" y="78.5" font-size="10.00" text-anchor="start" fill="#000" stroke="#000" stroke-width="0.50" textLength="21.6" lengthAdjust="spacingAndGlyphs" >0.98</text>
<text x="677.6" y="107.9" font-size="10.00" text-anchor="start" fill="#000" stroke="#000" stroke-width="0.50" textLength="21.6" lengthAdjust="spacingAndGlyphs" >0.97</text>
<text x="677.6" y="137.2" font-size="10.00" text-anchor="start" fill="#000" stroke="#000" stroke-width="0.50" textLength="21.6" lengthAdjust="spacingAndGlyphs" >0.96</text>
<text x="677.6" y="162.9" font-size="10.00" text-anchor="start" fill="#000" stroke="#000" stroke-width="0.50" textLength="21.6" lengthAdjust="spacingAndGlyphs" >0.95</text>
<text x="504.5" y="175.9" font-size="10.00" text-anchor="start" fill="#000" stroke="#000" stroke-width="0.50" textLength="10.6" lengthAdjust="spacingAndGlyphs" >10</text>
<text x="515.8" y="172.0" font-size="7.00" text-anchor="start" fill="#000" stroke="#000" stroke-width="0.65" textLength="8.4" lengthAdjust="spacingAndGlyphs" >−7</text>
<text x="531.2" y="175.9" font-size="10.00" text-anchor="start" fill="#000" stroke="#000" stroke-width="0.50" textLength="10.6" lengthAdjust="spacingAndGlyphs" >10</text>
<text x="542.5" y="172.0" font-size="7.00" text-anchor="start" fill="#000" stroke="#000" stroke-width="0.65" textLength="8.4" lengthAdjust="spacingAndGlyphs" >−6</text>
<text x="558.0" y="175.9" font-size="10.00" text-anchor="start" fill="#000" stroke="#000" stroke-width="0.50" textLength="10.6" lengthAdjust="spacingAndGlyphs" >10</text>
<text x="569.3" y="172.0" font-size="7.00" text-anchor="start" fill="#000" stroke="#000" stroke-width="0.65" textLength="8.4" lengthAdjust="spacingAndGlyphs" >−5</text>
<text x="584.7" y="175.9" font-size="10.00" text-anchor="start" fill="#000" stroke="#000" stroke-width="0.50" textLength="10.6" lengthAdjust="spacingAndGlyphs" >10</text>
<text x="596.0" y="172.0" font-size="7.00" text-anchor="start" fill="#000" stroke="#000" stroke-width="0.65" textLength="8.4" lengthAdjust="spacingAndGlyphs" >−4</text>
<text x="611.4" y="175.9" font-size="10.00" text-anchor="start" fill="#000" stroke="#000" stroke-width="0.50" textLength="10.6" lengthAdjust="spacingAndGlyphs" >10</text>
<text x="622.7" y="172.0" font-size="7.00" text-anchor="start" fill="#000" stroke="#000" stroke-width="0.65" textLength="8.4" lengthAdjust="spacingAndGlyphs" >−3</text>
<text x="638.2" y="175.9" font-size="10.00" text-anchor="start" fill="#000" stroke="#000" stroke-width="0.50" textLength="10.6" lengthAdjust="spacingAndGlyphs" >10</text>
<text x="649.5" y="172.0" font-size="7.00" text-anchor="start" fill="#000" stroke="#000" stroke-width="0.65" textLength="8.4" lengthAdjust="spacingAndGlyphs" >−2</text>
<text x="664.9" y="175.9" font-size="10.00" text-anchor="start" fill="#000" stroke="#000" stroke-width="0.50" textLength="10.6" lengthAdjust="spacingAndGlyphs" >10</text>
<text x="676.2" y="172.0" font-size="7.00" text-anchor="start" fill="#000" stroke="#000" stroke-width="0.65" textLength="8.4" lengthAdjust="spacingAndGlyphs" >−1</text>
<text transform="translate(488.1 84.6) rotate(-90)" font-size="9.80" font-weight="bold" text-anchor="middle" textLength="65.4" lengthAdjust="spacingAndGlyphs" fill="#000">Completeness</text>
<text transform="translate(709.6 85.1) rotate(-90)" font-size="9.80" font-weight="bold" text-anchor="middle" textLength="44.6" lengthAdjust="spacingAndGlyphs" fill="#000">Reliability</text>
<text x="588.8" y="188.6" font-size="10.4" font-style="italic" font-weight="bold" fill="#000" stroke="#000" stroke-width="0.3">P</text>
<text x="595.7" y="190.9" font-size="7.4" font-weight="bold" fill="#000" stroke="#000" stroke-width="0.3">0</text>
<text x="554.9" y="155.0" font-size="10.20" text-anchor="start" fill="#000" stroke="#000" stroke-width="0.65" textLength="18.0" lengthAdjust="spacing" >2−7</text>
<text x="579.7" y="155.0" font-size="10.10" text-anchor="start" fill="#000" stroke="#000" stroke-width="0.65" textLength="19.0" lengthAdjust="spacingAndGlyphs" >keV;</text>
<text x="603.5" y="155.0" font-size="10.20" text-anchor="start" fill="#000" stroke="#000" stroke-width="0.65" textLength="5.2" lengthAdjust="spacingAndGlyphs"  font-style="italic">θ</text>
<text x="609.3" y="155.0" font-size="10.20" text-anchor="start" fill="#000" stroke="#000" stroke-width="0.65" textLength="7.1" lengthAdjust="spacingAndGlyphs" >&lt;</text>
<text x="617.9" y="155.0" font-size="10.20" text-anchor="start" fill="#000" stroke="#000" stroke-width="0.65" textLength="5.7" lengthAdjust="spacingAndGlyphs" >=</text>
<text x="625.0" y="155.0" font-size="10.20" text-anchor="start" fill="#000" stroke="#000" stroke-width="0.65" textLength="5.7" lengthAdjust="spacingAndGlyphs" >6</text>
<text x="631.4" y="155.0" font-size="10.20" text-anchor="start" fill="#000" stroke="#000" stroke-width="0.65" textLength="1.8" lengthAdjust="spacingAndGlyphs" >′</text>
</g>
<g>
<path d="M44.0 351.4L44.0 349.9M44.0 196.8L44.0 198.3M48.7 351.4L48.7 349.9M48.7 196.8L48.7 198.3M52.0 351.4L52.0 349.9M52.0 196.8L52.0 198.3M54.6 351.4L54.6 349.9M54.6 196.8L54.6 198.3M56.8 351.4L56.8 349.9M56.8 196.8L56.8 198.3M58.5 351.4L58.5 349.9M58.5 196.8L58.5 198.3M60.1 351.4L60.1 349.9M60.1 196.8L60.1 198.3M61.5 351.4L61.5 349.9M61.5 196.8L61.5 198.3M62.7 351.4L62.7 348.4M62.7 196.8L62.7 199.8M70.7 351.4L70.7 349.9M70.7 196.8L70.7 198.3M75.4 351.4L75.4 349.9M75.4 196.8L75.4 198.3M78.8 351.4L78.8 349.9M78.8 196.8L78.8 198.3M81.4 351.4L81.4 349.9M81.4 196.8L81.4 198.3M83.5 351.4L83.5 349.9M83.5 196.8L83.5 198.3M85.3 351.4L85.3 349.9M85.3 196.8L85.3 198.3M86.8 351.4L86.8 349.9M86.8 196.8L86.8 198.3M88.2 351.4L88.2 349.9M88.2 196.8L88.2 198.3M89.4 351.4L89.4 348.4M89.4 196.8L89.4 199.8M97.5 351.4L97.5 349.9M97.5 196.8L97.5 198.3M102.2 351.4L102.2 349.9M102.2 196.8L102.2 198.3M105.5 351.4L105.5 349.9M105.5 196.8L105.5 198.3M108.1 351.4L108.1 349.9M108.1 196.8L108.1 198.3M110.2 351.4L110.2 349.9M110.2 196.8L110.2 198.3M112.0 351.4L112.0 349.9M112.0 196.8L112.0 198.3M113.6 351.4L113.6 349.9M113.6 196.8L113.6 198.3M114.9 351.4L114.9 349.9M114.9 196.8L114.9 198.3M116.2 351.4L116.2 348.4M116.2 196.8L116.2 199.8M124.2 351.4L124.2 349.9M124.2 196.8L124.2 198.3M128.9 351.4L128.9 349.9M128.9 196.8L128.9 198.3M132.2 351.4L132.2 349.9M132.2 196.8L132.2 198.3M134.8 351.4L134.8 349.9M134.8 196.8L134.8 198.3M137.0 351.4L137.0 349.9M137.0 196.8L137.0 198.3M138.7 351.4L138.7 349.9M138.7 196.8L138.7 198.3M140.3 351.4L140.3 349.9M140.3 196.8L140.3 198.3M141.7 351.4L141.7 349.9M141.7 196.8L141.7 198.3M142.9 351.4L142.9 348.4M142.9 196.8L142.9 199.8M150.9 351.4L150.9 349.9M150.9 196.8L150.9 198.3M155.6 351.4L155.6 349.9M155.6 196.8L155.6 198.3M159.0 351.4L159.0 349.9M159.0 196.8L159.0 198.3M161.6 351.4L161.6 349.9M161.6 196.8L161.6 198.3M163.7 351.4L163.7 349.9M163.7 196.8L163.7 198.3M165.5 351.4L165.5 349.9M165.5 196.8L165.5 198.3M167.0 351.4L167.0 349.9M167.0 196.8L167.0 198.3M168.4 351.4L168.4 349.9M168.4 196.8L168.4 198.3M169.6 351.4L169.6 348.4M169.6 196.8L169.6 199.8M177.7 351.4L177.7 349.9M177.7 196.8L177.7 198.3M182.4 351.4L182.4 349.9M182.4 196.8L182.4 198.3M185.7 351.4L185.7 349.9M185.7 196.8L185.7 198.3M188.3 351.4L188.3 349.9M188.3 196.8L188.3 198.3M190.4 351.4L190.4 349.9M190.4 196.8L190.4 198.3M192.2 351.4L192.2 349.9M192.2 196.8L192.2 198.3M193.8 351.4L193.8 349.9M193.8 196.8L193.8 198.3M195.1 351.4L195.1 349.9M195.1 196.8L195.1 198.3M36.0 343.2L37.5 343.2M36.0 335.1L39.0 335.1M36.0 326.9L37.5 326.9M36.0 318.8L37.5 318.8M36.0 310.7L37.5 310.7M36.0 302.5L39.0 302.5M36.0 294.4L37.5 294.4M36.0 286.3L37.5 286.3M36.0 278.1L37.5 278.1M36.0 270.0L39.0 270.0M36.0 261.9L37.5 261.9M36.0 253.7L37.5 253.7M36.0 245.6L37.5 245.6M36.0 237.5L39.0 237.5M36.0 229.3L37.5 229.3M36.0 221.2L37.5 221.2M36.0 213.1L37.5 213.1M36.0 204.9L39.0 204.9" stroke="#000" stroke-width="1.25" fill="none"/>
<rect x="36.0" y="196.8" width="160.4" height="154.6" fill="none" stroke="#000" stroke-width="1.6"/>
<polyline points="35.4,284.0 45.7,281.8 58.3,280.0 70.8,277.1 83.4,273.4 94.4,270.2 103.8,265.8 113.2,262.4 120.0,259.0 128.8,254.8 139.8,249.3 150.8,244.8 160.2,241.2 169.7,238.0 175.9,234.9 183.8,231.8 190.1,230.2 196.0,229.0" fill="none" stroke="#ff0000" stroke-width="1.72" stroke-linejoin="round"/>
<polyline points="36.9,323.4 52.7,321.0 70.3,318.0 88.0,313.4 105.6,309.2 123.3,305.4 140.9,299.1 156.0,294.0 166.1,291.5 181.3,287.2 196.0,283.7" fill="none" stroke="#0048f8" stroke-width="1.75" stroke-dasharray="6.45 3.15 1.9 3.15" stroke-dashoffset="0.0" stroke-linejoin="round"/>
<polyline points="36.0,205.0 52.1,205.2 56.5,207.5 60.3,208.3 65.3,208.3 67.2,209.3 74.1,210.2 78.5,210.2 81.1,211.2 100.0,211.5 105.7,213.8 112.4,215.8 117.8,217.6 122.6,218.1 132.0,218.9 143.0,221.2 150.0,222.8 157.1,225.5 161.8,226.3 167.3,229.4 174.4,230.2 180.6,231.8 186.9,234.9 192.4,236.5 196.0,239.1" fill="none" stroke="#ff0000" stroke-width="1.75" stroke-dasharray="13.3 6.0" stroke-dashoffset="0.0" stroke-linejoin="round"/>
<polyline points="36.0,205.0 52.1,205.2 56.5,207.5 60.3,208.3 65.3,208.3 67.2,209.3 74.1,210.2 78.5,210.2 81.1,211.2 100.0,211.5 105.7,213.8 112.4,216.1 117.1,218.1 124.9,220.0 130.4,220.0 137.5,221.2 143.8,221.9 150.8,223.9 155.5,225.5 161.0,227.5 166.5,231.8 173.6,234.4 179.1,235.4 184.6,240.1 190.1,243.2 196.0,248.2" fill="none" stroke="#0048f8" stroke-width="1.75" stroke-dasharray="6.65 6.22" stroke-dashoffset="0.0" stroke-linejoin="round"/>
<line x1="165.4" y1="199.0" x2="165.4" y2="350.9" stroke="#000" stroke-width="1.7" stroke-dasharray="1.7 2.907" stroke-dashoffset="0"/>
<path d="M196.4 348.4L194.9 348.4M196.4 345.5L194.9 345.5M196.4 342.6L194.9 342.6M196.4 339.7L194.9 339.7M196.4 336.7L194.9 336.7M196.4 333.8L194.9 333.8M196.4 330.9L194.9 330.9M196.4 328.0L194.9 328.0M196.4 325.0L194.9 325.0M196.4 322.1L193.4 322.1M196.4 319.2L194.9 319.2M196.4 316.3L194.9 316.3M196.4 313.3L194.9 313.3M196.4 310.4L194.9 310.4M196.4 307.5L194.9 307.5M196.4 304.6L194.9 304.6M196.4 301.6L194.9 301.6M196.4 298.7L194.9 298.7M196.4 295.8L194.9 295.8M196.4 292.9L193.4 292.9M196.4 289.9L194.9 289.9M196.4 287.0L194.9 287.0M196.4 284.1L194.9 284.1M196.4 281.2L194.9 281.2M196.4 278.2L194.9 278.2M196.4 275.3L194.9 275.3M196.4 272.4L194.9 272.4M196.4 269.5L194.9 269.5M196.4 266.5L194.9 266.5M196.4 263.6L193.4 263.6M196.4 260.7L194.9 260.7M196.4 257.8L194.9 257.8M196.4 254.8L194.9 254.8M196.4 251.9L194.9 251.9M196.4 249.0L194.9 249.0M196.4 246.1L194.9 246.1M196.4 243.1L194.9 243.1M196.4 240.2L194.9 240.2M196.4 237.3L194.9 237.3M196.4 234.4L193.4 234.4M196.4 231.4L194.9 231.4M196.4 228.5L194.9 228.5M196.4 225.6L194.9 225.6M196.4 222.7L194.9 222.7M196.4 219.7L194.9 219.7M196.4 216.8L194.9 216.8M196.4 213.9L194.9 213.9M196.4 211.0L194.9 211.0M196.4 208.0L194.9 208.0M196.4 205.1L193.4 205.1M196.4 202.2L194.9 202.2M196.4 199.3L194.9 199.3" stroke="#000" stroke-width="1.25" fill="none"/>
<line x1="196.4" y1="196.0" x2="196.4" y2="352.2" stroke="#000" stroke-width="1.6"/>
<text x="32.6" y="208.8" font-size="10.00" text-anchor="end" fill="#000" stroke="#000" stroke-width="0.50" textLength="15.0" lengthAdjust="spacingAndGlyphs" >1.0</text>
<text x="32.6" y="241.4" font-size="10.00" text-anchor="end" fill="#000" stroke="#000" stroke-width="0.50" textLength="15.0" lengthAdjust="spacingAndGlyphs" >0.8</text>
<text x="32.6" y="273.9" font-size="10.00" text-anchor="end" fill="#000" stroke="#000" stroke-width="0.50" textLength="15.0" lengthAdjust="spacingAndGlyphs" >0.6</text>
<text x="32.6" y="306.4" font-size="10.00" text-anchor="end" fill="#000" stroke="#000" stroke-width="0.50" textLength="15.0" lengthAdjust="spacingAndGlyphs" >0.4</text>
<text x="32.6" y="339.0" font-size="10.00" text-anchor="end" fill="#000" stroke="#000" stroke-width="0.50" textLength="15.0" lengthAdjust="spacingAndGlyphs" >0.2</text>
<text x="199.1" y="209.3" font-size="10.00" text-anchor="start" fill="#000" stroke="#000" stroke-width="0.50" textLength="21.6" lengthAdjust="spacingAndGlyphs" >1.00</text>
<text x="199.1" y="238.6" font-size="10.00" text-anchor="start" fill="#000" stroke="#000" stroke-width="0.50" textLength="21.6" lengthAdjust="spacingAndGlyphs" >0.99</text>
<text x="199.1" y="267.8" font-size="10.00" text-anchor="start" fill="#000" stroke="#000" stroke-width="0.50" textLength="21.6" lengthAdjust="spacingAndGlyphs" >0.98</text>
<text x="199.1" y="297.1" font-size="10.00" text-anchor="start" fill="#000" stroke="#000" stroke-width="0.50" textLength="21.6" lengthAdjust="spacingAndGlyphs" >0.97</text>
<text x="199.1" y="326.3" font-size="10.00" text-anchor="start" fill="#000" stroke="#000" stroke-width="0.50" textLength="21.6" lengthAdjust="spacingAndGlyphs" >0.96</text>
<text x="199.1" y="352.0" font-size="10.00" text-anchor="start" fill="#000" stroke="#000" stroke-width="0.50" textLength="21.6" lengthAdjust="spacingAndGlyphs" >0.95</text>
<text x="26.0" y="365.0" font-size="10.00" text-anchor="start" fill="#000" stroke="#000" stroke-width="0.50" textLength="10.6" lengthAdjust="spacingAndGlyphs" >10</text>
<text x="37.2" y="361.1" font-size="7.00" text-anchor="start" fill="#000" stroke="#000" stroke-width="0.65" textLength="8.4" lengthAdjust="spacingAndGlyphs" >−7</text>
<text x="52.7" y="365.0" font-size="10.00" text-anchor="start" fill="#000" stroke="#000" stroke-width="0.50" textLength="10.6" lengthAdjust="spacingAndGlyphs" >10</text>
<text x="64.0" y="361.1" font-size="7.00" text-anchor="start" fill="#000" stroke="#000" stroke-width="0.65" textLength="8.4" lengthAdjust="spacingAndGlyphs" >−6</text>
<text x="79.4" y="365.0" font-size="10.00" text-anchor="start" fill="#000" stroke="#000" stroke-width="0.50" textLength="10.6" lengthAdjust="spacingAndGlyphs" >10</text>
<text x="90.7" y="361.1" font-size="7.00" text-anchor="start" fill="#000" stroke="#000" stroke-width="0.65" textLength="8.4" lengthAdjust="spacingAndGlyphs" >−5</text>
<text x="106.2" y="365.0" font-size="10.00" text-anchor="start" fill="#000" stroke="#000" stroke-width="0.50" textLength="10.6" lengthAdjust="spacingAndGlyphs" >10</text>
<text x="117.5" y="361.1" font-size="7.00" text-anchor="start" fill="#000" stroke="#000" stroke-width="0.65" textLength="8.4" lengthAdjust="spacingAndGlyphs" >−4</text>
<text x="132.9" y="365.0" font-size="10.00" text-anchor="start" fill="#000" stroke="#000" stroke-width="0.50" textLength="10.6" lengthAdjust="spacingAndGlyphs" >10</text>
<text x="144.2" y="361.1" font-size="7.00" text-anchor="start" fill="#000" stroke="#000" stroke-width="0.65" textLength="8.4" lengthAdjust="spacingAndGlyphs" >−3</text>
<text x="159.6" y="365.0" font-size="10.00" text-anchor="start" fill="#000" stroke="#000" stroke-width="0.50" textLength="10.6" lengthAdjust="spacingAndGlyphs" >10</text>
<text x="170.9" y="361.1" font-size="7.00" text-anchor="start" fill="#000" stroke="#000" stroke-width="0.65" textLength="8.4" lengthAdjust="spacingAndGlyphs" >−2</text>
<text x="186.4" y="365.0" font-size="10.00" text-anchor="start" fill="#000" stroke="#000" stroke-width="0.50" textLength="10.6" lengthAdjust="spacingAndGlyphs" >10</text>
<text x="197.7" y="361.1" font-size="7.00" text-anchor="start" fill="#000" stroke="#000" stroke-width="0.65" textLength="8.4" lengthAdjust="spacingAndGlyphs" >−1</text>
<text transform="translate(9.6 273.9) rotate(-90)" font-size="9.80" font-weight="bold" text-anchor="middle" textLength="65.4" lengthAdjust="spacingAndGlyphs" fill="#000">Completeness</text>
<text transform="translate(231.1 274.4) rotate(-90)" font-size="9.80" font-weight="bold" text-anchor="middle" textLength="44.6" lengthAdjust="spacingAndGlyphs" fill="#000">Reliability</text>
<text x="110.2" y="377.7" font-size="10.4" font-style="italic" font-weight="bold" fill="#000" stroke="#000" stroke-width="0.3">P</text>
<text x="117.2" y="380.0" font-size="7.4" font-weight="bold" fill="#000" stroke="#000" stroke-width="0.3">0</text>
<text x="57.8" y="344.1" font-size="10.20" text-anchor="start" fill="#000" stroke="#000" stroke-width="0.65" textLength="27.2" lengthAdjust="spacing" >0.5−7</text>
<text x="91.7" y="344.1" font-size="10.10" text-anchor="start" fill="#000" stroke="#000" stroke-width="0.65" textLength="19.0" lengthAdjust="spacingAndGlyphs" >keV;</text>
<text x="115.9" y="344.1" font-size="10.10" text-anchor="start" fill="#000" stroke="#000" stroke-width="0.65" textLength="13.9" lengthAdjust="spacing" >full</text>
<text x="135.0" y="344.1" font-size="10.10" text-anchor="start" fill="#000" stroke="#000" stroke-width="0.65" textLength="18.6" lengthAdjust="spacing" >field</text>
<text x="48.9" y="262.0" font-size="10.20" text-anchor="start" fill="#ff0000" stroke="#ff0000" stroke-width="0.90" textLength="6.8" lengthAdjust="spacingAndGlyphs" >&gt;</text>
<text x="56.8" y="262.0" font-size="10.20" text-anchor="start" fill="#ff0000" stroke="#ff0000" stroke-width="0.90" textLength="6.2" lengthAdjust="spacingAndGlyphs" >=</text>
<text x="64.2" y="262.0" font-size="10.20" text-anchor="start" fill="#ff0000" stroke="#ff0000" stroke-width="0.70" textLength="11.0" lengthAdjust="spacingAndGlyphs" >15</text>
<text x="80.9" y="262.0" font-size="10.10" text-anchor="start" fill="#ff0000" stroke="#ff0000" stroke-width="0.70" textLength="30.5" lengthAdjust="spacing" >counts</text>
<text x="54.9" y="306.9" font-size="10.20" text-anchor="start" fill="#0048f8" stroke="#0048f8" stroke-width="0.90" textLength="6.8" lengthAdjust="spacingAndGlyphs" >&gt;</text>
<text x="62.4" y="306.9" font-size="10.20" text-anchor="start" fill="#0048f8" stroke="#0048f8" stroke-width="0.90" textLength="6.2" lengthAdjust="spacingAndGlyphs" >=</text>
<text x="69.4" y="306.9" font-size="10.20" text-anchor="start" fill="#0048f8" stroke="#0048f8" stroke-width="0.70" textLength="6.3" lengthAdjust="spacingAndGlyphs" >8</text>
<text x="80.9" y="306.9" font-size="10.10" text-anchor="start" fill="#0048f8" stroke="#0048f8" stroke-width="0.70" textLength="30.5" lengthAdjust="spacing" >counts</text>
</g>
<g>
<path d="M283.2 351.4L283.2 349.9M283.2 196.8L283.2 198.3M288.0 351.4L288.0 349.9M288.0 196.8L288.0 198.3M291.3 351.4L291.3 349.9M291.3 196.8L291.3 198.3M293.9 351.4L293.9 349.9M293.9 196.8L293.9 198.3M296.0 351.4L296.0 349.9M296.0 196.8L296.0 198.3M297.8 351.4L297.8 349.9M297.8 196.8L297.8 198.3M299.3 351.4L299.3 349.9M299.3 196.8L299.3 198.3M300.7 351.4L300.7 349.9M300.7 196.8L300.7 198.3M301.9 351.4L301.9 348.4M301.9 196.8L301.9 199.8M310.0 351.4L310.0 349.9M310.0 196.8L310.0 198.3M314.7 351.4L314.7 349.9M314.7 196.8L314.7 198.3M318.0 351.4L318.0 349.9M318.0 196.8L318.0 198.3M320.6 351.4L320.6 349.9M320.6 196.8L320.6 198.3M322.7 351.4L322.7 349.9M322.7 196.8L322.7 198.3M324.5 351.4L324.5 349.9M324.5 196.8L324.5 198.3M326.1 351.4L326.1 349.9M326.1 196.8L326.1 198.3M327.4 351.4L327.4 349.9M327.4 196.8L327.4 198.3M328.7 351.4L328.7 348.4M328.7 196.8L328.7 199.8M336.7 351.4L336.7 349.9M336.7 196.8L336.7 198.3M341.4 351.4L341.4 349.9M341.4 196.8L341.4 198.3M344.8 351.4L344.8 349.9M344.8 196.8L344.8 198.3M347.4 351.4L347.4 349.9M347.4 196.8L347.4 198.3M349.5 351.4L349.5 349.9M349.5 196.8L349.5 198.3M351.3 351.4L351.3 349.9M351.3 196.8L351.3 198.3M352.8 351.4L352.8 349.9M352.8 196.8L352.8 198.3M354.2 351.4L354.2 349.9M354.2 196.8L354.2 198.3M355.4 351.4L355.4 348.4M355.4 196.8L355.4 199.8M363.4 351.4L363.4 349.9M363.4 196.8L363.4 198.3M368.2 351.4L368.2 349.9M368.2 196.8L368.2 198.3M371.5 351.4L371.5 349.9M371.5 196.8L371.5 198.3M374.1 351.4L374.1 349.9M374.1 196.8L374.1 198.3M376.2 351.4L376.2 349.9M376.2 196.8L376.2 198.3M378.0 351.4L378.0 349.9M378.0 196.8L378.0 198.3M379.5 351.4L379.5 349.9M379.5 196.8L379.5 198.3M380.9 351.4L380.9 349.9M380.9 196.8L380.9 198.3M382.1 351.4L382.1 348.4M382.1 196.8L382.1 199.8M390.2 351.4L390.2 349.9M390.2 196.8L390.2 198.3M394.9 351.4L394.9 349.9M394.9 196.8L394.9 198.3M398.2 351.4L398.2 349.9M398.2 196.8L398.2 198.3M400.8 351.4L400.8 349.9M400.8 196.8L400.8 198.3M402.9 351.4L402.9 349.9M402.9 196.8L402.9 198.3M404.7 351.4L404.7 349.9M404.7 196.8L404.7 198.3M406.3 351.4L406.3 349.9M406.3 196.8L406.3 198.3M407.6 351.4L407.6 349.9M407.6 196.8L407.6 198.3M408.9 351.4L408.9 348.4M408.9 196.8L408.9 199.8M416.9 351.4L416.9 349.9M416.9 196.8L416.9 198.3M421.6 351.4L421.6 349.9M421.6 196.8L421.6 198.3M425.0 351.4L425.0 349.9M425.0 196.8L425.0 198.3M427.6 351.4L427.6 349.9M427.6 196.8L427.6 198.3M429.7 351.4L429.7 349.9M429.7 196.8L429.7 198.3M431.5 351.4L431.5 349.9M431.5 196.8L431.5 198.3M433.0 351.4L433.0 349.9M433.0 196.8L433.0 198.3M434.4 351.4L434.4 349.9M434.4 196.8L434.4 198.3M275.2 343.2L276.7 343.2M275.2 335.1L278.2 335.1M275.2 326.9L276.7 326.9M275.2 318.8L276.7 318.8M275.2 310.7L276.7 310.7M275.2 302.5L278.2 302.5M275.2 294.4L276.7 294.4M275.2 286.3L276.7 286.3M275.2 278.1L276.7 278.1M275.2 270.0L278.2 270.0M275.2 261.9L276.7 261.9M275.2 253.7L276.7 253.7M275.2 245.6L276.7 245.6M275.2 237.5L278.2 237.5M275.2 229.3L276.7 229.3M275.2 221.2L276.7 221.2M275.2 213.1L276.7 213.1M275.2 204.9L278.2 204.9" stroke="#000" stroke-width="1.25" fill="none"/>
<rect x="275.2" y="196.8" width="160.4" height="154.6" fill="none" stroke="#000" stroke-width="1.6"/>
<polyline points="274.6,265.8 287.3,262.4 298.3,259.8 304.5,256.6 311.6,254.6 320.2,249.5 324.9,248.3 332.8,245.4 340.6,241.9 350.1,237.3 357.8,233.4 365.7,230.2 373.5,226.3 381.4,223.1 389.2,219.7 397.1,216.1 404.9,213.7 415.9,211.3 425.4,209.0 431.6,207.7 435.6,207.3" fill="none" stroke="#ff0000" stroke-width="1.72" stroke-linejoin="round"/>
<polyline points="276.1,307.0 290.2,304.9 307.8,300.3 325.5,295.3 343.1,290.2 358.2,285.2 375.9,279.7 391.0,273.9 406.1,270.1 421.2,267.1 435.6,264.0" fill="none" stroke="#0048f8" stroke-width="1.75" stroke-dasharray="6.45 3.15 1.9 3.15" stroke-dashoffset="0.0" stroke-linejoin="round"/>
<polyline points="275.3,204.7 282.0,204.7 285.8,205.6 295.9,205.3 300.9,207.5 307.2,207.5 314.1,207.8 317.9,209.3 326.1,208.8 330.5,210.4 333.7,210.0 337.5,211.6 345.7,211.6 352.0,214.5 357.1,216.6 361.8,217.2 370.4,218.4 375.1,220.8 379.8,224.7 387.7,227.0 394.0,229.4 400.2,230.7 407.3,231.3 410.5,231.8 414.4,235.7 418.3,236.0 424.6,239.1 428.5,239.6 435.6,243.8" fill="none" stroke="#ff0000" stroke-width="1.75" stroke-dasharray="13.3 6.0" stroke-dashoffset="0.0" stroke-linejoin="round"/>
<polyline points="275.3,204.7 282.0,204.7 285.8,205.6 295.9,205.3 300.9,207.5 307.2,207.5 314.1,207.8 317.9,209.3 326.1,208.8 330.5,210.4 333.7,210.0 337.5,211.6 345.7,211.6 352.0,215.0 356.3,217.2 363.3,218.7 369.6,220.8 375.9,224.4 380.6,227.0 386.9,230.2 392.4,232.2 398.7,234.1 404.9,236.0 411.2,238.0 415.9,240.4 421.4,243.2 427.7,245.4 434.0,249.0 435.8,250.6" fill="none" stroke="#0048f8" stroke-width="1.75" stroke-dasharray="6.65 6.22" stroke-dashoffset="0.0" stroke-linejoin="round"/>
<line x1="404.6" y1="199.0" x2="404.6" y2="350.9" stroke="#000" stroke-width="1.7" stroke-dasharray="1.7 2.907" stroke-dashoffset="0"/>
<path d="M435.6 348.4L434.1 348.4M435.6 345.5L434.1 345.5M435.6 342.6L434.1 342.6M435.6 339.7L434.1 339.7M435.6 336.7L434.1 336.7M435.6 333.8L434.1 333.8M435.6 330.9L434.1 330.9M435.6 328.0L434.1 328.0M435.6 325.0L434.1 325.0M435.6 322.1L432.6 322.1M435.6 319.2L434.1 319.2M435.6 316.3L434.1 316.3M435.6 313.3L434.1 313.3M435.6 310.4L434.1 310.4M435.6 307.5L434.1 307.5M435.6 304.6L434.1 304.6M435.6 301.6L434.1 301.6M435.6 298.7L434.1 298.7M435.6 295.8L434.1 295.8M435.6 292.9L432.6 292.9M435.6 289.9L434.1 289.9M435.6 287.0L434.1 287.0M435.6 284.1L434.1 284.1M435.6 281.2L434.1 281.2M435.6 278.2L434.1 278.2M435.6 275.3L434.1 275.3M435.6 272.4L434.1 272.4M435.6 269.5L434.1 269.5M435.6 266.5L434.1 266.5M435.6 263.6L432.6 263.6M435.6 260.7L434.1 260.7M435.6 257.8L434.1 257.8M435.6 254.8L434.1 254.8M435.6 251.9L434.1 251.9M435.6 249.0L434.1 249.0M435.6 246.1L434.1 246.1M435.6 243.1L434.1 243.1M435.6 240.2L434.1 240.2M435.6 237.3L434.1 237.3M435.6 234.4L432.6 234.4M435.6 231.4L434.1 231.4M435.6 228.5L434.1 228.5M435.6 225.6L434.1 225.6M435.6 222.7L434.1 222.7M435.6 219.7L434.1 219.7M435.6 216.8L434.1 216.8M435.6 213.9L434.1 213.9M435.6 211.0L434.1 211.0M435.6 208.0L434.1 208.0M435.6 205.1L432.6 205.1M435.6 202.2L434.1 202.2M435.6 199.3L434.1 199.3" stroke="#000" stroke-width="1.25" fill="none"/>
<line x1="435.6" y1="196.0" x2="435.6" y2="352.2" stroke="#000" stroke-width="1.6"/>
<text x="271.8" y="208.8" font-size="10.00" text-anchor="end" fill="#000" stroke="#000" stroke-width="0.50" textLength="15.0" lengthAdjust="spacingAndGlyphs" >1.0</text>
<text x="271.8" y="241.4" font-size="10.00" text-anchor="end" fill="#000" stroke="#000" stroke-width="0.50" textLength="15.0" lengthAdjust="spacingAndGlyphs" >0.8</text>
<text x="271.8" y="273.9" font-size="10.00" text-anchor="end" fill="#000" stroke="#000" stroke-width="0.50" textLength="15.0" lengthAdjust="spacingAndGlyphs" >0.6</text>
<text x="271.8" y="306.4" font-size="10.00" text-anchor="end" fill="#000" stroke="#000" stroke-width="0.50" textLength="15.0" lengthAdjust="spacingAndGlyphs" >0.4</text>
<text x="271.8" y="339.0" font-size="10.00" text-anchor="end" fill="#000" stroke="#000" stroke-width="0.50" textLength="15.0" lengthAdjust="spacingAndGlyphs" >0.2</text>
<text x="438.3" y="209.3" font-size="10.00" text-anchor="start" fill="#000" stroke="#000" stroke-width="0.50" textLength="21.6" lengthAdjust="spacingAndGlyphs" >1.00</text>
<text x="438.3" y="238.6" font-size="10.00" text-anchor="start" fill="#000" stroke="#000" stroke-width="0.50" textLength="21.6" lengthAdjust="spacingAndGlyphs" >0.99</text>
<text x="438.3" y="267.8" font-size="10.00" text-anchor="start" fill="#000" stroke="#000" stroke-width="0.50" textLength="21.6" lengthAdjust="spacingAndGlyphs" >0.98</text>
<text x="438.3" y="297.1" font-size="10.00" text-anchor="start" fill="#000" stroke="#000" stroke-width="0.50" textLength="21.6" lengthAdjust="spacingAndGlyphs" >0.97</text>
<text x="438.3" y="326.3" font-size="10.00" text-anchor="start" fill="#000" stroke="#000" stroke-width="0.50" textLength="21.6" lengthAdjust="spacingAndGlyphs" >0.96</text>
<text x="438.3" y="352.0" font-size="10.00" text-anchor="start" fill="#000" stroke="#000" stroke-width="0.50" textLength="21.6" lengthAdjust="spacingAndGlyphs" >0.95</text>
<text x="265.2" y="365.0" font-size="10.00" text-anchor="start" fill="#000" stroke="#000" stroke-width="0.50" textLength="10.6" lengthAdjust="spacingAndGlyphs" >10</text>
<text x="276.5" y="361.1" font-size="7.00" text-anchor="start" fill="#000" stroke="#000" stroke-width="0.65" textLength="8.4" lengthAdjust="spacingAndGlyphs" >−7</text>
<text x="291.9" y="365.0" font-size="10.00" text-anchor="start" fill="#000" stroke="#000" stroke-width="0.50" textLength="10.6" lengthAdjust="spacingAndGlyphs" >10</text>
<text x="303.2" y="361.1" font-size="7.00" text-anchor="start" fill="#000" stroke="#000" stroke-width="0.65" textLength="8.4" lengthAdjust="spacingAndGlyphs" >−6</text>
<text x="318.7" y="365.0" font-size="10.00" text-anchor="start" fill="#000" stroke="#000" stroke-width="0.50" textLength="10.6" lengthAdjust="spacingAndGlyphs" >10</text>
<text x="330.0" y="361.1" font-size="7.00" text-anchor="start" fill="#000" stroke="#000" stroke-width="0.65" textLength="8.4" lengthAdjust="spacingAndGlyphs" >−5</text>
<text x="345.4" y="365.0" font-size="10.00" text-anchor="start" fill="#000" stroke="#000" stroke-width="0.50" textLength="10.6" lengthAdjust="spacingAndGlyphs" >10</text>
<text x="356.7" y="361.1" font-size="7.00" text-anchor="start" fill="#000" stroke="#000" stroke-width="0.65" textLength="8.4" lengthAdjust="spacingAndGlyphs" >−4</text>
<text x="372.1" y="365.0" font-size="10.00" text-anchor="start" fill="#000" stroke="#000" stroke-width="0.50" textLength="10.6" lengthAdjust="spacingAndGlyphs" >10</text>
<text x="383.4" y="361.1" font-size="7.00" text-anchor="start" fill="#000" stroke="#000" stroke-width="0.65" textLength="8.4" lengthAdjust="spacingAndGlyphs" >−3</text>
<text x="398.9" y="365.0" font-size="10.00" text-anchor="start" fill="#000" stroke="#000" stroke-width="0.50" textLength="10.6" lengthAdjust="spacingAndGlyphs" >10</text>
<text x="410.2" y="361.1" font-size="7.00" text-anchor="start" fill="#000" stroke="#000" stroke-width="0.65" textLength="8.4" lengthAdjust="spacingAndGlyphs" >−2</text>
<text x="425.6" y="365.0" font-size="10.00" text-anchor="start" fill="#000" stroke="#000" stroke-width="0.50" textLength="10.6" lengthAdjust="spacingAndGlyphs" >10</text>
<text x="436.9" y="361.1" font-size="7.00" text-anchor="start" fill="#000" stroke="#000" stroke-width="0.65" textLength="8.4" lengthAdjust="spacingAndGlyphs" >−1</text>
<text transform="translate(248.8 273.9) rotate(-90)" font-size="9.80" font-weight="bold" text-anchor="middle" textLength="65.4" lengthAdjust="spacingAndGlyphs" fill="#000">Completeness</text>
<text transform="translate(470.3 274.4) rotate(-90)" font-size="9.80" font-weight="bold" text-anchor="middle" textLength="44.6" lengthAdjust="spacingAndGlyphs" fill="#000">Reliability</text>
<text x="349.5" y="377.7" font-size="10.4" font-style="italic" font-weight="bold" fill="#000" stroke="#000" stroke-width="0.3">P</text>
<text x="356.4" y="380.0" font-size="7.4" font-weight="bold" fill="#000" stroke="#000" stroke-width="0.3">0</text>
<text x="296.7" y="344.1" font-size="10.20" text-anchor="start" fill="#000" stroke="#000" stroke-width="0.65" textLength="28.8" lengthAdjust="spacing" >0.5−2</text>
<text x="330.9" y="344.1" font-size="10.10" text-anchor="start" fill="#000" stroke="#000" stroke-width="0.65" textLength="19.0" lengthAdjust="spacingAndGlyphs" >keV;</text>
<text x="355.1" y="344.1" font-size="10.10" text-anchor="start" fill="#000" stroke="#000" stroke-width="0.65" textLength="13.9" lengthAdjust="spacing" >full</text>
<text x="374.2" y="344.1" font-size="10.10" text-anchor="start" fill="#000" stroke="#000" stroke-width="0.65" textLength="18.6" lengthAdjust="spacing" >field</text>
</g>
<g>
<path d="M522.5 351.4L522.5 349.9M522.5 196.8L522.5 198.3M527.3 351.4L527.3 349.9M527.3 196.8L527.3 198.3M530.6 351.4L530.6 349.9M530.6 196.8L530.6 198.3M533.2 351.4L533.2 349.9M533.2 196.8L533.2 198.3M535.3 351.4L535.3 349.9M535.3 196.8L535.3 198.3M537.1 351.4L537.1 349.9M537.1 196.8L537.1 198.3M538.6 351.4L538.6 349.9M538.6 196.8L538.6 198.3M540.0 351.4L540.0 349.9M540.0 196.8L540.0 198.3M541.2 351.4L541.2 348.4M541.2 196.8L541.2 199.8M549.3 351.4L549.3 349.9M549.3 196.8L549.3 198.3M554.0 351.4L554.0 349.9M554.0 196.8L554.0 198.3M557.3 351.4L557.3 349.9M557.3 196.8L557.3 198.3M559.9 351.4L559.9 349.9M559.9 196.8L559.9 198.3M562.0 351.4L562.0 349.9M562.0 196.8L562.0 198.3M563.8 351.4L563.8 349.9M563.8 196.8L563.8 198.3M565.4 351.4L565.4 349.9M565.4 196.8L565.4 198.3M566.7 351.4L566.7 349.9M566.7 196.8L566.7 198.3M568.0 351.4L568.0 348.4M568.0 196.8L568.0 199.8M576.0 351.4L576.0 349.9M576.0 196.8L576.0 198.3M580.7 351.4L580.7 349.9M580.7 196.8L580.7 198.3M584.1 351.4L584.1 349.9M584.1 196.8L584.1 198.3M586.7 351.4L586.7 349.9M586.7 196.8L586.7 198.3M588.8 351.4L588.8 349.9M588.8 196.8L588.8 198.3M590.6 351.4L590.6 349.9M590.6 196.8L590.6 198.3M592.1 351.4L592.1 349.9M592.1 196.8L592.1 198.3M593.5 351.4L593.5 349.9M593.5 196.8L593.5 198.3M594.7 351.4L594.7 348.4M594.7 196.8L594.7 199.8M602.7 351.4L602.7 349.9M602.7 196.8L602.7 198.3M607.5 351.4L607.5 349.9M607.5 196.8L607.5 198.3M610.8 351.4L610.8 349.9M610.8 196.8L610.8 198.3M613.4 351.4L613.4 349.9M613.4 196.8L613.4 198.3M615.5 351.4L615.5 349.9M615.5 196.8L615.5 198.3M617.3 351.4L617.3 349.9M617.3 196.8L617.3 198.3M618.8 351.4L618.8 349.9M618.8 196.8L618.8 198.3M620.2 351.4L620.2 349.9M620.2 196.8L620.2 198.3M621.4 351.4L621.4 348.4M621.4 196.8L621.4 199.8M629.5 351.4L629.5 349.9M629.5 196.8L629.5 198.3M634.2 351.4L634.2 349.9M634.2 196.8L634.2 198.3M637.5 351.4L637.5 349.9M637.5 196.8L637.5 198.3M640.1 351.4L640.1 349.9M640.1 196.8L640.1 198.3M642.2 351.4L642.2 349.9M642.2 196.8L642.2 198.3M644.0 351.4L644.0 349.9M644.0 196.8L644.0 198.3M645.6 351.4L645.6 349.9M645.6 196.8L645.6 198.3M646.9 351.4L646.9 349.9M646.9 196.8L646.9 198.3M648.2 351.4L648.2 348.4M648.2 196.8L648.2 199.8M656.2 351.4L656.2 349.9M656.2 196.8L656.2 198.3M660.9 351.4L660.9 349.9M660.9 196.8L660.9 198.3M664.3 351.4L664.3 349.9M664.3 196.8L664.3 198.3M666.9 351.4L666.9 349.9M666.9 196.8L666.9 198.3M669.0 351.4L669.0 349.9M669.0 196.8L669.0 198.3M670.8 351.4L670.8 349.9M670.8 196.8L670.8 198.3M672.3 351.4L672.3 349.9M672.3 196.8L672.3 198.3M673.7 351.4L673.7 349.9M673.7 196.8L673.7 198.3M514.5 343.2L516.0 343.2M514.5 335.1L517.5 335.1M514.5 326.9L516.0 326.9M514.5 318.8L516.0 318.8M514.5 310.7L516.0 310.7M514.5 302.5L517.5 302.5M514.5 294.4L516.0 294.4M514.5 286.3L516.0 286.3M514.5 278.1L516.0 278.1M514.5 270.0L517.5 270.0M514.5 261.9L516.0 261.9M514.5 253.7L516.0 253.7M514.5 245.6L516.0 245.6M514.5 237.5L517.5 237.5M514.5 229.3L516.0 229.3M514.5 221.2L516.0 221.2M514.5 213.1L516.0 213.1M514.5 204.9L517.5 204.9" stroke="#000" stroke-width="1.25" fill="none"/>
<rect x="514.5" y="196.8" width="160.4" height="154.6" fill="none" stroke="#000" stroke-width="1.6"/>
<polyline points="513.9,305.6 530.2,301.6 547.8,298.3 562.9,295.3 578.1,290.2 590.0,286.3 597.8,282.3 608.8,277.1 613.5,274.5 624.5,269.0 630.8,261.9 637.1,256.6 644.2,251.3 649.7,246.8 653.6,242.9 660.6,239.7 667.5,237.0 673.2,232.2 675.5,231.0" fill="none" stroke="#ff0000" stroke-width="1.72" stroke-linejoin="round"/>
<polyline points="515.4,331.7 535.2,329.3 555.4,326.8 573.0,324.3 590.7,320.5 608.3,315.5 623.4,309.2 636.0,302.9 646.1,297.5 659.1,290.9 665.4,287.8 675.5,282.2" fill="none" stroke="#0048f8" stroke-width="1.75" stroke-dasharray="6.45 3.15 1.9 3.15" stroke-dashoffset="0.0" stroke-linejoin="round"/>
<polyline points="514.6,204.6 530.2,204.4 534.6,205.8 540.3,208.3 545.9,208.7 553.5,210.0 560.4,210.0 564.2,210.9 572.4,210.6 576.8,212.1 584.4,214.1 591.3,216.0 596.3,216.5 602.6,218.4 610.4,218.4 614.3,220.0 615.9,222.8 620.6,223.1 626.9,226.3 634.0,227.8 637.9,232.5 639.6,235.2 644.2,235.4 652.0,235.4 655.1,237.2 660.2,242.6 670.1,250.7 672.0,252.6" fill="none" stroke="#ff0000" stroke-width="1.75" stroke-dasharray="13.3 6.0" stroke-dashoffset="0.0" stroke-linejoin="round"/>
<polyline points="514.6,204.6 530.2,204.4 534.6,205.8 540.3,209.1 545.9,209.6 552.9,211.0 558.5,211.2 565.5,212.1 571.8,212.1 578.1,214.1 583.8,215.7 590.4,218.0 595.5,218.7 602.6,221.2 608.1,222.3 614.3,225.0 615.9,227.0 619.8,227.2 625.3,230.7 631.6,232.2 636.6,237.0 640.2,241.8 645.3,243.5 652.4,244.5 656.3,249.2 659.9,253.1 664.6,259.5 668.5,264.3 673.2,269.0 675.6,271.4" fill="none" stroke="#0048f8" stroke-width="1.75" stroke-dasharray="6.65 6.22" stroke-dashoffset="0.0" stroke-linejoin="round"/>
<line x1="644.0" y1="199.0" x2="644.0" y2="350.9" stroke="#000" stroke-width="1.7" stroke-dasharray="1.7 2.907" stroke-dashoffset="0"/>
<path d="M674.9 348.4L673.4 348.4M674.9 345.5L673.4 345.5M674.9 342.6L673.4 342.6M674.9 339.7L673.4 339.7M674.9 336.7L673.4 336.7M674.9 333.8L673.4 333.8M674.9 330.9L673.4 330.9M674.9 328.0L673.4 328.0M674.9 325.0L673.4 325.0M674.9 322.1L671.9 322.1M674.9 319.2L673.4 319.2M674.9 316.3L673.4 316.3M674.9 313.3L673.4 313.3M674.9 310.4L673.4 310.4M674.9 307.5L673.4 307.5M674.9 304.6L673.4 304.6M674.9 301.6L673.4 301.6M674.9 298.7L673.4 298.7M674.9 295.8L673.4 295.8M674.9 292.9L671.9 292.9M674.9 289.9L673.4 289.9M674.9 287.0L673.4 287.0M674.9 284.1L673.4 284.1M674.9 281.2L673.4 281.2M674.9 278.2L673.4 278.2M674.9 275.3L673.4 275.3M674.9 272.4L673.4 272.4M674.9 269.5L673.4 269.5M674.9 266.5L673.4 266.5M674.9 263.6L671.9 263.6M674.9 260.7L673.4 260.7M674.9 257.8L673.4 257.8M674.9 254.8L673.4 254.8M674.9 251.9L673.4 251.9M674.9 249.0L673.4 249.0M674.9 246.1L673.4 246.1M674.9 243.1L673.4 243.1M674.9 240.2L673.4 240.2M674.9 237.3L673.4 237.3M674.9 234.4L671.9 234.4M674.9 231.4L673.4 231.4M674.9 228.5L673.4 228.5M674.9 225.6L673.4 225.6M674.9 222.7L673.4 222.7M674.9 219.7L673.4 219.7M674.9 216.8L673.4 216.8M674.9 213.9L673.4 213.9M674.9 211.0L673.4 211.0M674.9 208.0L673.4 208.0M674.9 205.1L671.9 205.1M674.9 202.2L673.4 202.2M674.9 199.3L673.4 199.3" stroke="#000" stroke-width="1.25" fill="none"/>
<line x1="674.9" y1="196.0" x2="674.9" y2="352.2" stroke="#000" stroke-width="1.6"/>
<text x="511.1" y="208.8" font-size="10.00" text-anchor="end" fill="#000" stroke="#000" stroke-width="0.50" textLength="15.0" lengthAdjust="spacingAndGlyphs" >1.0</text>
<text x="511.1" y="241.4" font-size="10.00" text-anchor="end" fill="#000" stroke="#000" stroke-width="0.50" textLength="15.0" lengthAdjust="spacingAndGlyphs" >0.8</text>
<text x="511.1" y="273.9" font-size="10.00" text-anchor="end" fill="#000" stroke="#000" stroke-width="0.50" textLength="15.0" lengthAdjust="spacingAndGlyphs" >0.6</text>
<text x="511.1" y="306.4" font-size="10.00" text-anchor="end" fill="#000" stroke="#000" stroke-width="0.50" textLength="15.0" lengthAdjust="spacingAndGlyphs" >0.4</text>
<text x="511.1" y="339.0" font-size="10.00" text-anchor="end" fill="#000" stroke="#000" stroke-width="0.50" textLength="15.0" lengthAdjust="spacingAndGlyphs" >0.2</text>
<text x="677.6" y="209.3" font-size="10.00" text-anchor="start" fill="#000" stroke="#000" stroke-width="0.50" textLength="21.6" lengthAdjust="spacingAndGlyphs" >1.00</text>
<text x="677.6" y="238.6" font-size="10.00" text-anchor="start" fill="#000" stroke="#000" stroke-width="0.50" textLength="21.6" lengthAdjust="spacingAndGlyphs" >0.99</text>
<text x="677.6" y="267.8" font-size="10.00" text-anchor="start" fill="#000" stroke="#000" stroke-width="0.50" textLength="21.6" lengthAdjust="spacingAndGlyphs" >0.98</text>
<text x="677.6" y="297.1" font-size="10.00" text-anchor="start" fill="#000" stroke="#000" stroke-width="0.50" textLength="21.6" lengthAdjust="spacingAndGlyphs" >0.97</text>
<text x="677.6" y="326.3" font-size="10.00" text-anchor="start" fill="#000" stroke="#000" stroke-width="0.50" textLength="21.6" lengthAdjust="spacingAndGlyphs" >0.96</text>
<text x="677.6" y="352.0" font-size="10.00" text-anchor="start" fill="#000" stroke="#000" stroke-width="0.50" textLength="21.6" lengthAdjust="spacingAndGlyphs" >0.95</text>
<text x="504.5" y="365.0" font-size="10.00" text-anchor="start" fill="#000" stroke="#000" stroke-width="0.50" textLength="10.6" lengthAdjust="spacingAndGlyphs" >10</text>
<text x="515.8" y="361.1" font-size="7.00" text-anchor="start" fill="#000" stroke="#000" stroke-width="0.65" textLength="8.4" lengthAdjust="spacingAndGlyphs" >−7</text>
<text x="531.2" y="365.0" font-size="10.00" text-anchor="start" fill="#000" stroke="#000" stroke-width="0.50" textLength="10.6" lengthAdjust="spacingAndGlyphs" >10</text>
<text x="542.5" y="361.1" font-size="7.00" text-anchor="start" fill="#000" stroke="#000" stroke-width="0.65" textLength="8.4" lengthAdjust="spacingAndGlyphs" >−6</text>
<text x="558.0" y="365.0" font-size="10.00" text-anchor="start" fill="#000" stroke="#000" stroke-width="0.50" textLength="10.6" lengthAdjust="spacingAndGlyphs" >10</text>
<text x="569.3" y="361.1" font-size="7.00" text-anchor="start" fill="#000" stroke="#000" stroke-width="0.65" textLength="8.4" lengthAdjust="spacingAndGlyphs" >−5</text>
<text x="584.7" y="365.0" font-size="10.00" text-anchor="start" fill="#000" stroke="#000" stroke-width="0.50" textLength="10.6" lengthAdjust="spacingAndGlyphs" >10</text>
<text x="596.0" y="361.1" font-size="7.00" text-anchor="start" fill="#000" stroke="#000" stroke-width="0.65" textLength="8.4" lengthAdjust="spacingAndGlyphs" >−4</text>
<text x="611.4" y="365.0" font-size="10.00" text-anchor="start" fill="#000" stroke="#000" stroke-width="0.50" textLength="10.6" lengthAdjust="spacingAndGlyphs" >10</text>
<text x="622.7" y="361.1" font-size="7.00" text-anchor="start" fill="#000" stroke="#000" stroke-width="0.65" textLength="8.4" lengthAdjust="spacingAndGlyphs" >−3</text>
<text x="638.2" y="365.0" font-size="10.00" text-anchor="start" fill="#000" stroke="#000" stroke-width="0.50" textLength="10.6" lengthAdjust="spacingAndGlyphs" >10</text>
<text x="649.5" y="361.1" font-size="7.00" text-anchor="start" fill="#000" stroke="#000" stroke-width="0.65" textLength="8.4" lengthAdjust="spacingAndGlyphs" >−2</text>
<text x="664.9" y="365.0" font-size="10.00" text-anchor="start" fill="#000" stroke="#000" stroke-width="0.50" textLength="10.6" lengthAdjust="spacingAndGlyphs" >10</text>
<text x="676.2" y="361.1" font-size="7.00" text-anchor="start" fill="#000" stroke="#000" stroke-width="0.65" textLength="8.4" lengthAdjust="spacingAndGlyphs" >−1</text>
<text transform="translate(488.1 273.9) rotate(-90)" font-size="9.80" font-weight="bold" text-anchor="middle" textLength="65.4" lengthAdjust="spacingAndGlyphs" fill="#000">Completeness</text>
<text transform="translate(709.6 274.4) rotate(-90)" font-size="9.80" font-weight="bold" text-anchor="middle" textLength="44.6" lengthAdjust="spacingAndGlyphs" fill="#000">Reliability</text>
<text x="588.8" y="377.7" font-size="10.4" font-style="italic" font-weight="bold" fill="#000" stroke="#000" stroke-width="0.3">P</text>
<text x="595.7" y="380.0" font-size="7.4" font-weight="bold" fill="#000" stroke="#000" stroke-width="0.3">0</text>
<text x="546.1" y="344.1" font-size="10.20" text-anchor="start" fill="#000" stroke="#000" stroke-width="0.65" textLength="18.0" lengthAdjust="spacing" >2−7</text>
<text x="571.1" y="344.1" font-size="10.10" text-anchor="start" fill="#000" stroke="#000" stroke-width="0.65" textLength="18.8" lengthAdjust="spacingAndGlyphs" >keV;</text>
<text x="595.3" y="344.1" font-size="10.10" text-anchor="start" fill="#000" stroke="#000" stroke-width="0.65" textLength="13.5" lengthAdjust="spacing" >full</text>
<text x="614.2" y="344.1" font-size="10.10" text-anchor="start" fill="#000" stroke="#000" stroke-width="0.65" textLength="18.4" lengthAdjust="spacing" >field</text>
</g>
</svg></body></html>
